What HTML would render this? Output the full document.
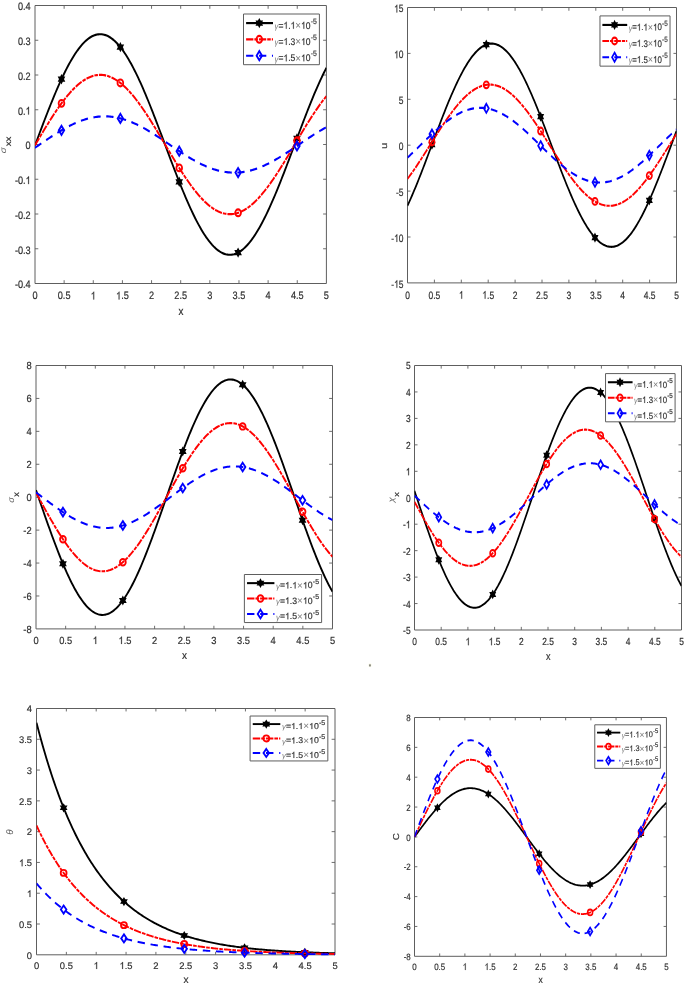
<!DOCTYPE html><html><head><meta charset="utf-8"><title>fig</title>
<style>html,body{margin:0;padding:0;background:#fff}svg{display:block;will-change:transform}text{font-family:"Liberation Sans",sans-serif;stroke:#444;stroke-width:0.22px;paint-order:stroke;text-rendering:geometricPrecision}</style></head><body>
<svg width="685" height="985" viewBox="0 0 685 985">
<rect width="685" height="985" fill="#fff"/>
<g transform="translate(35 5.5) scale(1.00000 1.00000)">
<path d="M29.14 278v-3.3M29.14 0v3.3M58.28 278v-3.3M58.28 0v3.3M87.42 278v-3.3M87.42 0v3.3M116.56 278v-3.3M116.56 0v3.3M145.7 278v-3.3M145.7 0v3.3M174.84 278v-3.3M174.84 0v3.3M203.98 278v-3.3M203.98 0v3.3M233.12 278v-3.3M233.12 0v3.3M262.26 278v-3.3M262.26 0v3.3M0 243.25h3.3M291.4 243.25h-3.3M0 208.5h3.3M291.4 208.5h-3.3M0 173.75h3.3M291.4 173.75h-3.3M0 139h3.3M291.4 139h-3.3M0 104.25h3.3M291.4 104.25h-3.3M0 69.5h3.3M291.4 69.5h-3.3M0 34.75h3.3M291.4 34.75h-3.3" stroke="#5e5e5e" stroke-width="0.9" fill="none" vector-effect="non-scaling-stroke"/>
<rect x="0" y="0" width="291.4" height="278.0" fill="none" stroke="#5e5e5e" stroke-width="1.0" vector-effect="non-scaling-stroke"/>
<clipPath id="c0"><rect x="0" y="-1.6" width="344.85" height="281.2"/></clipPath>
<g transform="scale(0.845 1)">
<path d="M0 139.88 L1.44 136.64 L2.87 133.4 L4.31 130.16 L5.75 126.93 L7.18 123.71 L8.62 120.5 L10.06 117.31 L11.5 114.14 L12.93 110.99 L14.37 107.87 L15.81 104.77 L17.24 101.7 L18.68 98.66 L20.12 95.66 L21.55 92.7 L22.99 89.77 L24.43 86.89 L25.86 84.05 L27.3 81.26 L28.74 78.52 L30.17 75.84 L31.61 73.21 L33.05 70.63 L34.49 68.11 L35.92 65.66 L37.36 63.27 L38.8 60.94 L40.23 58.68 L41.67 56.5 L43.11 54.38 L44.54 52.33 L45.98 50.36 L47.42 48.47 L48.85 46.66 L50.29 44.92 L51.73 43.27 L53.16 41.7 L54.6 40.22 L56.04 38.82 L57.48 37.5 L58.91 36.28 L60.35 35.14 L61.79 34.09 L63.22 33.14 L64.66 32.27 L66.1 31.5 L67.53 30.82 L68.97 30.23 L70.41 29.74 L71.84 29.35 L73.28 29.04 L74.72 28.84 L76.15 28.72 L77.59 28.71 L79.03 28.79 L80.47 28.96 L81.9 29.23 L83.34 29.6 L84.78 30.06 L86.21 30.61 L87.65 31.26 L89.09 32 L90.52 32.83 L91.96 33.76 L93.4 34.77 L94.83 35.88 L96.27 37.07 L97.71 38.36 L99.14 39.73 L100.58 41.19 L102.02 42.73 L103.46 44.35 L104.89 46.06 L106.33 47.85 L107.77 49.71 L109.2 51.66 L110.64 53.67 L112.08 55.77 L113.51 57.93 L114.95 60.17 L116.39 62.47 L117.82 64.84 L119.26 67.27 L120.7 69.77 L122.14 72.32 L123.57 74.94 L125.01 77.6 L126.45 80.33 L127.88 83.1 L129.32 85.92 L130.76 88.79 L132.19 91.7 L133.63 94.65 L135.07 97.64 L136.5 100.66 L137.94 103.72 L139.38 106.81 L140.81 109.93 L142.25 113.07 L143.69 116.23 L145.13 119.42 L146.56 122.62 L148 125.83 L149.44 129.06 L150.87 132.29 L152.31 135.53 L153.75 138.78 L155.18 142.02 L156.62 145.26 L158.06 148.5 L159.49 151.73 L160.93 154.95 L162.37 158.15 L163.8 161.33 L165.24 164.5 L166.68 167.65 L168.12 170.77 L169.55 173.86 L170.99 176.92 L172.43 179.95 L173.86 182.95 L175.3 185.9 L176.74 188.82 L178.17 191.69 L179.61 194.52 L181.05 197.3 L182.48 200.03 L183.92 202.7 L185.36 205.32 L186.79 207.89 L188.23 210.39 L189.67 212.83 L191.11 215.21 L192.54 217.52 L193.98 219.77 L195.42 221.94 L196.85 224.04 L198.29 226.07 L199.73 228.03 L201.16 229.9 L202.6 231.7 L204.04 233.42 L205.47 235.06 L206.91 236.61 L208.35 238.08 L209.79 239.46 L211.22 240.75 L212.66 241.96 L214.1 243.08 L215.53 244.11 L216.97 245.05 L218.41 245.89 L219.84 246.65 L221.28 247.31 L222.72 247.87 L224.15 248.35 L225.59 248.72 L227.03 249.01 L228.46 249.19 L229.9 249.29 L231.34 249.28 L232.78 249.18 L234.21 248.99 L235.65 248.7 L237.09 248.32 L238.52 247.84 L239.96 247.27 L241.4 246.6 L242.83 245.84 L244.27 244.99 L245.71 244.04 L247.14 243.01 L248.58 241.88 L250.02 240.67 L251.45 239.37 L252.89 237.98 L254.33 236.51 L255.77 234.95 L257.2 233.31 L258.64 231.58 L260.08 229.78 L261.51 227.9 L262.95 225.94 L264.39 223.91 L265.82 221.8 L267.26 219.62 L268.7 217.37 L270.13 215.05 L271.57 212.67 L273.01 210.23 L274.44 207.72 L275.88 205.15 L277.32 202.53 L278.76 199.85 L280.19 197.11 L281.63 194.33 L283.07 191.5 L284.5 188.63 L285.94 185.71 L287.38 182.75 L288.81 179.75 L290.25 176.72 L291.69 173.65 L293.12 170.56 L294.56 167.44 L296 164.29 L297.43 161.12 L298.87 157.93 L300.31 154.73 L301.75 151.51 L303.18 148.28 L304.62 145.05 L306.06 141.81 L307.49 138.56 L308.93 135.32 L310.37 132.08 L311.8 128.84 L313.24 125.62 L314.68 122.4 L316.11 119.2 L317.55 116.02 L318.99 112.86 L320.43 109.72 L321.86 106.6 L323.3 103.51 L324.74 100.46 L326.17 97.43 L327.61 94.45 L329.05 91.5 L330.48 88.59 L331.92 85.73 L333.36 82.91 L334.79 80.14 L336.23 77.42 L337.67 74.76 L339.1 72.15 L340.54 69.6 L341.98 67.11 L343.42 64.68 L344.85 62.31" clip-path="url(#c0)" fill="none" stroke-width="2.15" stroke="#000000"/>
<path d="M31.35 69.98 L30.28 71.83 L28.15 71.83 L29.21 73.68 L28.15 75.53 L30.28 75.53 L31.35 77.38 L32.42 75.53 L34.55 75.53 L33.49 73.68 L34.55 71.83 L32.42 71.83Z" fill="#000" stroke="#000" stroke-width="1.5" stroke-linejoin="miter"/>
<path d="M101.02 37.94 L99.95 39.79 L97.81 39.79 L98.88 41.64 L97.81 43.49 L99.95 43.49 L101.02 45.34 L102.09 43.49 L104.22 43.49 L103.15 41.64 L104.22 39.79 L102.09 39.79Z" fill="#000" stroke="#000" stroke-width="1.5" stroke-linejoin="miter"/>
<path d="M170.68 172.58 L169.62 174.43 L167.48 174.43 L168.55 176.28 L167.48 178.13 L169.62 178.13 L170.68 179.98 L171.75 178.13 L173.89 178.13 L172.82 176.28 L173.89 174.43 L171.75 174.43Z" fill="#000" stroke="#000" stroke-width="1.5" stroke-linejoin="miter"/>
<path d="M240.35 243.39 L239.28 245.24 L237.15 245.24 L238.22 247.09 L237.15 248.94 L239.28 248.94 L240.35 250.79 L241.42 248.94 L243.56 248.94 L242.49 247.09 L243.56 245.24 L241.42 245.24Z" fill="#000" stroke="#000" stroke-width="1.5" stroke-linejoin="miter"/>
<path d="M310.02 129.16 L308.95 131.01 L306.81 131.01 L307.88 132.86 L306.81 134.71 L308.95 134.71 L310.02 136.56 L311.09 134.71 L313.22 134.71 L312.15 132.86 L313.22 131.01 L311.09 131.01Z" fill="#000" stroke="#000" stroke-width="1.5" stroke-linejoin="miter"/>
<path d="M0 139.7 L1.44 137.65 L2.87 135.6 L4.31 133.56 L5.75 131.52 L7.18 129.48 L8.62 127.46 L10.06 125.44 L11.5 123.44 L12.93 121.45 L14.37 119.48 L15.81 117.52 L17.24 115.58 L18.68 113.66 L20.12 111.76 L21.55 109.89 L22.99 108.04 L24.43 106.22 L25.86 104.43 L27.3 102.66 L28.74 100.93 L30.17 99.23 L31.61 97.57 L33.05 95.94 L34.49 94.35 L35.92 92.8 L37.36 91.29 L38.8 89.81 L40.23 88.39 L41.67 87 L43.11 85.66 L44.54 84.37 L45.98 83.12 L47.42 81.92 L48.85 80.77 L50.29 79.68 L51.73 78.63 L53.16 77.63 L54.6 76.69 L56.04 75.8 L57.48 74.97 L58.91 74.19 L60.35 73.47 L61.79 72.81 L63.22 72.2 L64.66 71.65 L66.1 71.16 L67.53 70.72 L68.97 70.35 L70.41 70.04 L71.84 69.78 L73.28 69.59 L74.72 69.45 L76.15 69.38 L77.59 69.36 L79.03 69.41 L80.47 69.52 L81.9 69.68 L83.34 69.91 L84.78 70.19 L86.21 70.54 L87.65 70.94 L89.09 71.41 L90.52 71.93 L91.96 72.51 L93.4 73.15 L94.83 73.84 L96.27 74.59 L97.71 75.4 L99.14 76.26 L100.58 77.18 L102.02 78.15 L103.46 79.17 L104.89 80.24 L106.33 81.37 L107.77 82.54 L109.2 83.77 L110.64 85.04 L112.08 86.36 L113.51 87.72 L114.95 89.13 L116.39 90.58 L117.82 92.07 L119.26 93.61 L120.7 95.18 L122.14 96.79 L123.57 98.44 L125.01 100.12 L126.45 101.84 L127.88 103.58 L129.32 105.36 L130.76 107.17 L132.19 109.01 L133.63 110.87 L135.07 112.75 L136.5 114.66 L137.94 116.59 L139.38 118.54 L140.81 120.51 L142.25 122.49 L143.69 124.49 L145.13 126.5 L146.56 128.52 L148 130.55 L149.44 132.58 L150.87 134.63 L152.31 136.67 L153.75 138.72 L155.18 140.77 L156.62 142.82 L158.06 144.86 L159.49 146.9 L160.93 148.93 L162.37 150.95 L163.8 152.97 L165.24 154.97 L166.68 156.95 L168.12 158.92 L169.55 160.88 L170.99 162.81 L172.43 164.73 L173.86 166.62 L175.3 168.49 L176.74 170.33 L178.17 172.15 L179.61 173.93 L181.05 175.69 L182.48 177.42 L183.92 179.11 L185.36 180.76 L186.79 182.39 L188.23 183.97 L189.67 185.51 L191.11 187.02 L192.54 188.48 L193.98 189.9 L195.42 191.28 L196.85 192.61 L198.29 193.89 L199.73 195.13 L201.16 196.32 L202.6 197.45 L204.04 198.54 L205.47 199.58 L206.91 200.56 L208.35 201.49 L209.79 202.37 L211.22 203.19 L212.66 203.96 L214.1 204.67 L215.53 205.32 L216.97 205.92 L218.41 206.46 L219.84 206.94 L221.28 207.36 L222.72 207.72 L224.15 208.02 L225.59 208.26 L227.03 208.45 L228.46 208.57 L229.9 208.63 L231.34 208.63 L232.78 208.57 L234.21 208.46 L235.65 208.28 L237.09 208.04 L238.52 207.74 L239.96 207.38 L241.4 206.97 L242.83 206.49 L244.27 205.96 L245.71 205.36 L247.14 204.72 L248.58 204.01 L250.02 203.25 L251.45 202.43 L252.89 201.56 L254.33 200.63 L255.77 199.65 L257.2 198.62 L258.64 197.53 L260.08 196.4 L261.51 195.21 L262.95 193.98 L264.39 192.7 L265.82 191.37 L267.26 190 L268.7 188.58 L270.13 187.12 L271.57 185.62 L273.01 184.08 L274.44 182.5 L275.88 180.88 L277.32 179.22 L278.76 177.53 L280.19 175.81 L281.63 174.06 L283.07 172.27 L284.5 170.46 L285.94 168.62 L287.38 166.75 L288.81 164.86 L290.25 162.95 L291.69 161.01 L293.12 159.06 L294.56 157.09 L296 155.1 L297.43 153.1 L298.87 151.09 L300.31 149.07 L301.75 147.04 L303.18 145 L304.62 142.96 L306.06 140.91 L307.49 138.86 L308.93 136.81 L310.37 134.77 L311.8 132.72 L313.24 130.69 L314.68 128.66 L316.11 126.64 L317.55 124.63 L318.99 122.63 L320.43 120.64 L321.86 118.68 L323.3 116.73 L324.74 114.8 L326.17 112.89 L327.61 111 L329.05 109.13 L330.48 107.3 L331.92 105.49 L333.36 103.71 L334.79 101.96 L336.23 100.24 L337.67 98.55 L339.1 96.9 L340.54 95.29 L341.98 93.71 L343.42 92.18 L344.85 90.68" clip-path="url(#c0)" fill="none" stroke-width="2.15" stroke="#ff0000" stroke-dasharray="8.6 1.2 4.2 1.2"/>
<circle cx="31.35" cy="97.87" r="3.4" fill="none" stroke="#f00" stroke-width="2.1"/>
<circle cx="101.02" cy="77.47" r="3.4" fill="none" stroke="#f00" stroke-width="2.1"/>
<circle cx="170.68" cy="162.4" r="3.4" fill="none" stroke="#f00" stroke-width="2.1"/>
<circle cx="240.35" cy="207.28" r="3.4" fill="none" stroke="#f00" stroke-width="2.1"/>
<circle cx="310.02" cy="135.26" r="3.4" fill="none" stroke="#f00" stroke-width="2.1"/>
<path d="M0 142.23 L1.44 141.41 L2.87 140.58 L4.31 139.75 L5.75 138.92 L7.18 138.1 L8.62 137.27 L10.06 136.44 L11.5 135.62 L12.93 134.8 L14.37 133.98 L15.81 133.17 L17.24 132.36 L18.68 131.56 L20.12 130.77 L21.55 129.98 L22.99 129.2 L24.43 128.43 L25.86 127.66 L27.3 126.91 L28.74 126.17 L30.17 125.44 L31.61 124.72 L33.05 124.01 L34.49 123.32 L35.92 122.64 L37.36 121.97 L38.8 121.32 L40.23 120.68 L41.67 120.06 L43.11 119.46 L44.54 118.87 L45.98 118.3 L47.42 117.75 L48.85 117.21 L50.29 116.7 L51.73 116.2 L53.16 115.73 L54.6 115.27 L56.04 114.84 L57.48 114.42 L58.91 114.03 L60.35 113.66 L61.79 113.31 L63.22 112.98 L64.66 112.68 L66.1 112.4 L67.53 112.14 L68.97 111.9 L70.41 111.69 L71.84 111.5 L73.28 111.34 L74.72 111.19 L76.15 111.08 L77.59 110.99 L79.03 110.92 L80.47 110.87 L81.9 110.85 L83.34 110.86 L84.78 110.89 L86.21 110.94 L87.65 111.02 L89.09 111.12 L90.52 111.25 L91.96 111.4 L93.4 111.57 L94.83 111.77 L96.27 111.99 L97.71 112.23 L99.14 112.5 L100.58 112.79 L102.02 113.11 L103.46 113.44 L104.89 113.8 L106.33 114.18 L107.77 114.58 L109.2 115 L110.64 115.44 L112.08 115.91 L113.51 116.39 L114.95 116.89 L116.39 117.42 L117.82 117.96 L119.26 118.52 L120.7 119.09 L122.14 119.69 L123.57 120.3 L125.01 120.92 L126.45 121.57 L127.88 122.22 L129.32 122.9 L130.76 123.58 L132.19 124.28 L133.63 124.99 L135.07 125.72 L136.5 126.45 L137.94 127.2 L139.38 127.96 L140.81 128.72 L142.25 129.5 L143.69 130.28 L145.13 131.07 L146.56 131.87 L148 132.67 L149.44 133.48 L150.87 134.3 L152.31 135.12 L153.75 135.94 L155.18 136.76 L156.62 137.59 L158.06 138.42 L159.49 139.24 L160.93 140.07 L162.37 140.9 L163.8 141.72 L165.24 142.55 L166.68 143.37 L168.12 144.18 L169.55 144.99 L170.99 145.8 L172.43 146.6 L173.86 147.39 L175.3 148.18 L176.74 148.96 L178.17 149.73 L179.61 150.49 L181.05 151.24 L182.48 151.98 L183.92 152.71 L185.36 153.43 L186.79 154.13 L188.23 154.82 L189.67 155.5 L191.11 156.16 L192.54 156.81 L193.98 157.45 L195.42 158.06 L196.85 158.66 L198.29 159.25 L199.73 159.82 L201.16 160.36 L202.6 160.89 L204.04 161.4 L205.47 161.9 L206.91 162.37 L208.35 162.82 L209.79 163.25 L211.22 163.66 L212.66 164.05 L214.1 164.41 L215.53 164.76 L216.97 165.08 L218.41 165.38 L219.84 165.66 L221.28 165.91 L222.72 166.14 L224.15 166.35 L225.59 166.54 L227.03 166.69 L228.46 166.83 L229.9 166.94 L231.34 167.03 L232.78 167.09 L234.21 167.13 L235.65 167.15 L237.09 167.14 L238.52 167.1 L239.96 167.05 L241.4 166.96 L242.83 166.86 L244.27 166.73 L245.71 166.57 L247.14 166.39 L248.58 166.19 L250.02 165.96 L251.45 165.71 L252.89 165.44 L254.33 165.15 L255.77 164.83 L257.2 164.49 L258.64 164.13 L260.08 163.74 L261.51 163.34 L262.95 162.91 L264.39 162.46 L265.82 162 L267.26 161.51 L268.7 161 L270.13 160.47 L271.57 159.93 L273.01 159.37 L274.44 158.79 L275.88 158.19 L277.32 157.58 L278.76 156.95 L280.19 156.3 L281.63 155.64 L283.07 154.97 L284.5 154.28 L285.94 153.57 L287.38 152.86 L288.81 152.13 L290.25 151.4 L291.69 150.65 L293.12 149.89 L294.56 149.12 L296 148.34 L297.43 147.56 L298.87 146.77 L300.31 145.97 L301.75 145.16 L303.18 144.35 L304.62 143.54 L306.06 142.72 L307.49 141.89 L308.93 141.07 L310.37 140.24 L311.8 139.42 L313.24 138.59 L314.68 137.76 L316.11 136.93 L317.55 136.11 L318.99 135.29 L320.43 134.47 L321.86 133.65 L323.3 132.84 L324.74 132.04 L326.17 131.24 L327.61 130.45 L329.05 129.66 L330.48 128.88 L331.92 128.11 L333.36 127.36 L334.79 126.61 L336.23 125.87 L337.67 125.14 L339.1 124.43 L340.54 123.73 L341.98 123.04 L343.42 122.36 L344.85 121.7" clip-path="url(#c0)" fill="none" stroke-width="2.15" stroke="#0000ff" stroke-dasharray="8.6 6.6"/>
<path d="M31.35 120.3 L34.55 124.85 L31.35 129.4 L28.15 124.85Z" fill="none" stroke="#00f" stroke-width="2.1" stroke-linejoin="miter"/>
<path d="M101.02 108.33 L104.22 112.88 L101.02 117.43 L97.82 112.88Z" fill="none" stroke="#00f" stroke-width="2.1" stroke-linejoin="miter"/>
<path d="M170.68 141.08 L173.88 145.63 L170.68 150.18 L167.48 145.63Z" fill="none" stroke="#00f" stroke-width="2.1" stroke-linejoin="miter"/>
<path d="M240.35 162.48 L243.55 167.03 L240.35 171.58 L237.15 167.03Z" fill="none" stroke="#00f" stroke-width="2.1" stroke-linejoin="miter"/>
<path d="M310.02 135.89 L313.22 140.44 L310.02 144.99 L306.82 140.44Z" fill="none" stroke="#00f" stroke-width="2.1" stroke-linejoin="miter"/>
</g>
<text transform="translate(-2.553 293.9) scale(0.85 1)" font-size="10.8" fill="#2f2f2f">0</text>
<text transform="translate(22.758 293.9) scale(0.85 1)" font-size="10.8" fill="#2f2f2f">0.5</text>
<path transform="translate(55.727 293.9) scale(0.004482 -0.005273)" d="M763 0L583 0L583 1147Q518 1085 412.5 1023Q307 961 223 930L223 1104Q374 1175 487 1276Q600 1377 647 1472L763 1472Z" fill="#2f2f2f" stroke="#444" stroke-width="0.22" vector-effect="non-scaling-stroke"/>
<path transform="translate(81.038 293.9) scale(0.004482 -0.005273)" d="M763 0L583 0L583 1147Q518 1085 412.5 1023Q307 961 223 930L223 1104Q374 1175 487 1276Q600 1377 647 1472L763 1472Z" fill="#2f2f2f" stroke="#444" stroke-width="0.22" vector-effect="non-scaling-stroke"/><text transform="translate(86.144 293.9) scale(0.85 1)" font-size="10.8" fill="#2f2f2f">.5</text>
<text transform="translate(114.007 293.9) scale(0.85 1)" font-size="10.8" fill="#2f2f2f">2</text>
<text transform="translate(139.318 293.9) scale(0.85 1)" font-size="10.8" fill="#2f2f2f">2.5</text>
<text transform="translate(172.287 293.9) scale(0.85 1)" font-size="10.8" fill="#2f2f2f">3</text>
<text transform="translate(197.598 293.9) scale(0.85 1)" font-size="10.8" fill="#2f2f2f">3.5</text>
<text transform="translate(230.567 293.9) scale(0.85 1)" font-size="10.8" fill="#2f2f2f">4</text>
<text transform="translate(255.878 293.9) scale(0.85 1)" font-size="10.8" fill="#2f2f2f">4.5</text>
<text transform="translate(288.847 293.9) scale(0.85 1)" font-size="10.8" fill="#2f2f2f">5</text>
<text transform="translate(-20.123 282.85) scale(0.85 1)" font-size="10.8" fill="#2f2f2f">-0.4</text>
<text transform="translate(-20.123 248.1) scale(0.85 1)" font-size="10.8" fill="#2f2f2f">-0.3</text>
<text transform="translate(-20.123 213.35) scale(0.85 1)" font-size="10.8" fill="#2f2f2f">-0.2</text>
<text transform="translate(-20.123 178.6) scale(0.85 1)" font-size="10.8" fill="#2f2f2f">-0.</text><path transform="translate(-9.406 178.6) scale(0.004482 -0.005273)" d="M763 0L583 0L583 1147Q518 1085 412.5 1023Q307 961 223 930L223 1104Q374 1175 487 1276Q600 1377 647 1472L763 1472Z" fill="#2f2f2f" stroke="#444" stroke-width="0.22" vector-effect="non-scaling-stroke"/>
<text transform="translate(-9.406 143.85) scale(0.85 1)" font-size="10.8" fill="#2f2f2f">0</text>
<text transform="translate(-17.065 109.1) scale(0.85 1)" font-size="10.8" fill="#2f2f2f">0.</text><path transform="translate(-9.406 109.1) scale(0.004482 -0.005273)" d="M763 0L583 0L583 1147Q518 1085 412.5 1023Q307 961 223 930L223 1104Q374 1175 487 1276Q600 1377 647 1472L763 1472Z" fill="#2f2f2f" stroke="#444" stroke-width="0.22" vector-effect="non-scaling-stroke"/>
<text transform="translate(-17.065 74.35) scale(0.85 1)" font-size="10.8" fill="#2f2f2f">0.2</text>
<text transform="translate(-17.065 39.6) scale(0.85 1)" font-size="10.8" fill="#2f2f2f">0.3</text>
<text transform="translate(-17.065 4.85) scale(0.85 1)" font-size="10.8" fill="#2f2f2f">0.4</text>
<text transform="translate(143.535 309.6) scale(0.85 1)" font-size="11.6" fill="#2f2f2f">x</text>
<text transform="translate(-28.9 144.7) rotate(-90) scale(1 0.85)" font-size="9.86" text-anchor="middle" fill="#626262" font-style="italic" style="stroke:none">σ</text><text transform="translate(-24 135.9) rotate(-90) scale(1 0.85)" font-size="9.74" text-anchor="middle" fill="#2f2f2f">xx</text>
<g transform="translate(208.5 8.5)">
<rect x="0" y="0" width="75.9" height="50.7" fill="#fff" stroke="#5e5e5e" stroke-width="1.0" vector-effect="non-scaling-stroke"/>
<g transform="scale(0.845 1)"><path d="M3.08 9.1H34.91" stroke="#000000" stroke-width="2.15" fill="none"/><path d="M18.7 5.4 L17.63 7.25 L15.49 7.25 L16.56 9.1 L15.49 10.95 L17.63 10.95 L18.7 12.8 L19.77 10.95 L21.9 10.95 L20.83 9.1 L21.9 7.25 L19.77 7.25Z" fill="#000" stroke="#000" stroke-width="1.5" stroke-linejoin="miter"/></g>
<text transform="translate(31.1 15.2) scale(0.89 1)" font-size="8.64" font-style="italic" fill="#7c7c7c" style="stroke:none">γ</text>
<text transform="translate(34.945 14.7) scale(0.89 1)" font-size="9.6" fill="#2f2f2f" style="stroke-width:0.2px">=</text><path transform="translate(39.935 14.7) scale(0.004172 -0.004687)" d="M763 0L583 0L583 1147Q518 1085 412.5 1023Q307 961 223 930L223 1104Q374 1175 487 1276Q600 1377 647 1472L763 1472Z" fill="#2f2f2f" stroke="#444" stroke-width="0.2" vector-effect="non-scaling-stroke"/><text transform="translate(44.688 14.7) scale(0.89 1)" font-size="9.6" fill="#2f2f2f" style="stroke-width:0.2px">.</text><path transform="translate(47.063 14.7) scale(0.004172 -0.004687)" d="M763 0L583 0L583 1147Q518 1085 412.5 1023Q307 961 223 930L223 1104Q374 1175 487 1276Q600 1377 647 1472L763 1472Z" fill="#2f2f2f" stroke="#444" stroke-width="0.2" vector-effect="non-scaling-stroke"/>
<text transform="translate(51.815 15.1) scale(0.89 1)" font-size="11.04" fill="#7c7c7c" style="stroke:none">×</text>
<path transform="translate(57.554 14.7) scale(0.004172 -0.004687)" d="M763 0L583 0L583 1147Q518 1085 412.5 1023Q307 961 223 930L223 1104Q374 1175 487 1276Q600 1377 647 1472L763 1472Z" fill="#2f2f2f" stroke="#444" stroke-width="0.2" vector-effect="non-scaling-stroke"/><text transform="translate(62.307 14.7) scale(0.89 1)" font-size="9.6" fill="#2f2f2f" style="stroke-width:0.2px">0</text>
<text transform="translate(67.259 9.7) scale(0.89 1)" font-size="7.68" fill="#2f2f2f" style="stroke-width:0.2px">-5</text>
<g transform="scale(0.845 1)"><path d="M3.08 25.3H34.91" stroke="#ff0000" stroke-width="2.15" fill="none" stroke-dasharray="8.6 1.2 4.2 1.2"/><circle cx="18.7" cy="25.3" r="3.4" fill="none" stroke="#f00" stroke-width="2.1"/></g>
<text transform="translate(31.1 31.4) scale(0.89 1)" font-size="8.64" font-style="italic" fill="#7c7c7c" style="stroke:none">γ</text>
<text transform="translate(34.945 30.9) scale(0.89 1)" font-size="9.6" fill="#2f2f2f" style="stroke-width:0.2px">=</text><path transform="translate(39.935 30.9) scale(0.004172 -0.004687)" d="M763 0L583 0L583 1147Q518 1085 412.5 1023Q307 961 223 930L223 1104Q374 1175 487 1276Q600 1377 647 1472L763 1472Z" fill="#2f2f2f" stroke="#444" stroke-width="0.2" vector-effect="non-scaling-stroke"/><text transform="translate(44.688 30.9) scale(0.89 1)" font-size="9.6" fill="#2f2f2f" style="stroke-width:0.2px">.3</text>
<text transform="translate(51.815 31.3) scale(0.89 1)" font-size="11.04" fill="#7c7c7c" style="stroke:none">×</text>
<path transform="translate(57.554 30.9) scale(0.004172 -0.004687)" d="M763 0L583 0L583 1147Q518 1085 412.5 1023Q307 961 223 930L223 1104Q374 1175 487 1276Q600 1377 647 1472L763 1472Z" fill="#2f2f2f" stroke="#444" stroke-width="0.2" vector-effect="non-scaling-stroke"/><text transform="translate(62.307 30.9) scale(0.89 1)" font-size="9.6" fill="#2f2f2f" style="stroke-width:0.2px">0</text>
<text transform="translate(67.259 25.9) scale(0.89 1)" font-size="7.68" fill="#2f2f2f" style="stroke-width:0.2px">-5</text>
<g transform="scale(0.845 1)"><path d="M3.08 41.7H34.91" stroke="#0000ff" stroke-width="2.15" fill="none" stroke-dasharray="8.6 6.7"/><path d="M18.7 37.15 L21.9 41.7 L18.7 46.25 L15.5 41.7Z" fill="none" stroke="#00f" stroke-width="2.1" stroke-linejoin="miter"/></g>
<text transform="translate(31.1 47.8) scale(0.89 1)" font-size="8.64" font-style="italic" fill="#7c7c7c" style="stroke:none">γ</text>
<text transform="translate(34.945 47.3) scale(0.89 1)" font-size="9.6" fill="#2f2f2f" style="stroke-width:0.2px">=</text><path transform="translate(39.935 47.3) scale(0.004172 -0.004687)" d="M763 0L583 0L583 1147Q518 1085 412.5 1023Q307 961 223 930L223 1104Q374 1175 487 1276Q600 1377 647 1472L763 1472Z" fill="#2f2f2f" stroke="#444" stroke-width="0.2" vector-effect="non-scaling-stroke"/><text transform="translate(44.688 47.3) scale(0.89 1)" font-size="9.6" fill="#2f2f2f" style="stroke-width:0.2px">.5</text>
<text transform="translate(51.815 47.7) scale(0.89 1)" font-size="11.04" fill="#7c7c7c" style="stroke:none">×</text>
<path transform="translate(57.554 47.3) scale(0.004172 -0.004687)" d="M763 0L583 0L583 1147Q518 1085 412.5 1023Q307 961 223 930L223 1104Q374 1175 487 1276Q600 1377 647 1472L763 1472Z" fill="#2f2f2f" stroke="#444" stroke-width="0.2" vector-effect="non-scaling-stroke"/><text transform="translate(62.307 47.3) scale(0.89 1)" font-size="9.6" fill="#2f2f2f" style="stroke-width:0.2px">0</text>
<text transform="translate(67.259 42.3) scale(0.89 1)" font-size="7.68" fill="#2f2f2f" style="stroke-width:0.2px">-5</text>
</g>
</g>
<g transform="translate(407.5 7.5) scale(0.92313 0.99065)">
<path d="M29.14 278v-3.3M29.14 0v3.3M58.28 278v-3.3M58.28 0v3.3M87.42 278v-3.3M87.42 0v3.3M116.56 278v-3.3M116.56 0v3.3M145.7 278v-3.3M145.7 0v3.3M174.84 278v-3.3M174.84 0v3.3M203.98 278v-3.3M203.98 0v3.3M233.12 278v-3.3M233.12 0v3.3M262.26 278v-3.3M262.26 0v3.3M0 231.67h3.3M291.4 231.67h-3.3M0 185.33h3.3M291.4 185.33h-3.3M0 139h3.3M291.4 139h-3.3M0 92.67h3.3M291.4 92.67h-3.3M0 46.33h3.3M291.4 46.33h-3.3" stroke="#5e5e5e" stroke-width="0.9" fill="none" vector-effect="non-scaling-stroke"/>
<rect x="0" y="0" width="291.4" height="278.0" fill="none" stroke="#5e5e5e" stroke-width="1.0" vector-effect="non-scaling-stroke"/>
<clipPath id="c1"><rect x="0" y="-1.6" width="344.85" height="281.2"/></clipPath>
<g transform="scale(0.845 1)">
<path d="M0 200.01 L1.44 197.56 L2.87 195.06 L4.31 192.51 L5.75 189.91 L7.18 187.27 L8.62 184.59 L10.06 181.86 L11.5 179.1 L12.93 176.31 L14.37 173.48 L15.81 170.63 L17.24 167.74 L18.68 164.83 L20.12 161.9 L21.55 158.95 L22.99 155.98 L24.43 153 L25.86 150.01 L27.3 147 L28.74 143.99 L30.17 140.97 L31.61 137.96 L33.05 134.94 L34.49 131.93 L35.92 128.92 L37.36 125.92 L38.8 122.94 L40.23 119.96 L41.67 117.01 L43.11 114.07 L44.54 111.15 L45.98 108.26 L47.42 105.4 L48.85 102.56 L50.29 99.75 L51.73 96.98 L53.16 94.25 L54.6 91.55 L56.04 88.9 L57.48 86.29 L58.91 83.72 L60.35 81.2 L61.79 78.74 L63.22 76.32 L64.66 73.96 L66.1 71.66 L67.53 69.41 L68.97 67.22 L70.41 65.1 L71.84 63.04 L73.28 61.04 L74.72 59.11 L76.15 57.26 L77.59 55.47 L79.03 53.75 L80.47 52.11 L81.9 50.55 L83.34 49.06 L84.78 47.64 L86.21 46.31 L87.65 45.06 L89.09 43.89 L90.52 42.8 L91.96 41.79 L93.4 40.87 L94.83 40.03 L96.27 39.28 L97.71 38.62 L99.14 38.04 L100.58 37.55 L102.02 37.15 L103.46 36.83 L104.89 36.6 L106.33 36.47 L107.77 36.42 L109.2 36.46 L110.64 36.59 L112.08 36.8 L113.51 37.11 L114.95 37.5 L116.39 37.98 L117.82 38.55 L119.26 39.21 L120.7 39.95 L122.14 40.78 L123.57 41.69 L125.01 42.69 L126.45 43.77 L127.88 44.93 L129.32 46.18 L130.76 47.5 L132.19 48.9 L133.63 50.39 L135.07 51.94 L136.5 53.58 L137.94 55.29 L139.38 57.07 L140.81 58.92 L142.25 60.84 L143.69 62.82 L145.13 64.88 L146.56 67 L148 69.18 L149.44 71.42 L150.87 73.72 L152.31 76.07 L153.75 78.48 L155.18 80.94 L156.62 83.46 L158.06 86.02 L159.49 88.62 L160.93 91.27 L162.37 93.96 L163.8 96.69 L165.24 99.46 L166.68 102.26 L168.12 105.1 L169.55 107.96 L170.99 110.85 L172.43 113.76 L173.86 116.7 L175.3 119.65 L176.74 122.62 L178.17 125.61 L179.61 128.6 L181.05 131.61 L182.48 134.62 L183.92 137.64 L185.36 140.66 L186.79 143.67 L188.23 146.69 L189.67 149.69 L191.11 152.69 L192.54 155.67 L193.98 158.64 L195.42 161.59 L196.85 164.53 L198.29 167.44 L199.73 170.33 L201.16 173.18 L202.6 176.01 L204.04 178.81 L205.47 181.58 L206.91 184.3 L208.35 186.99 L209.79 189.64 L211.22 192.24 L212.66 194.79 L214.1 197.3 L215.53 199.76 L216.97 202.16 L218.41 204.51 L219.84 206.81 L221.28 209.04 L222.72 211.22 L224.15 213.33 L225.59 215.37 L227.03 217.36 L228.46 219.27 L229.9 221.11 L231.34 222.89 L232.78 224.59 L234.21 226.21 L235.65 227.76 L237.09 229.24 L238.52 230.63 L239.96 231.95 L241.4 233.19 L242.83 234.34 L244.27 235.41 L245.71 236.4 L247.14 237.31 L248.58 238.13 L250.02 238.86 L251.45 239.51 L252.89 240.07 L254.33 240.54 L255.77 240.93 L257.2 241.22 L258.64 241.43 L260.08 241.55 L261.51 241.58 L262.95 241.52 L264.39 241.38 L265.82 241.14 L267.26 240.82 L268.7 240.41 L270.13 239.91 L271.57 239.32 L273.01 238.65 L274.44 237.89 L275.88 237.04 L277.32 236.11 L278.76 235.1 L280.19 234 L281.63 232.82 L283.07 231.56 L284.5 230.22 L285.94 228.8 L287.38 227.3 L288.81 225.73 L290.25 224.08 L291.69 222.36 L293.12 220.56 L294.56 218.7 L296 216.76 L297.43 214.76 L298.87 212.7 L300.31 210.57 L301.75 208.37 L303.18 206.12 L304.62 203.81 L306.06 201.44 L307.49 199.02 L308.93 196.55 L310.37 194.03 L311.8 191.46 L313.24 188.84 L314.68 186.18 L316.11 183.48 L317.55 180.74 L318.99 177.97 L320.43 175.16 L321.86 172.32 L323.3 169.46 L324.74 166.56 L326.17 163.64 L327.61 160.7 L329.05 157.75 L330.48 154.77 L331.92 151.78 L333.36 148.78 L334.79 145.78 L336.23 142.76 L337.67 139.75 L339.1 136.73 L340.54 133.71 L341.98 130.7 L343.42 127.7 L344.85 124.7" clip-path="url(#c1)" fill="none" stroke-width="2.15" stroke="#000000"/>
<path d="M31.35 134.81 L30.28 136.66 L28.15 136.66 L29.21 138.51 L28.15 140.36 L30.28 140.36 L31.35 142.21 L32.42 140.36 L34.55 140.36 L33.49 138.51 L34.55 136.66 L32.42 136.66Z" fill="#000" stroke="#000" stroke-width="1.5" stroke-linejoin="miter"/>
<path d="M101.02 33.72 L99.95 35.57 L97.81 35.57 L98.88 37.42 L97.81 39.27 L99.95 39.27 L101.02 41.12 L102.09 39.27 L104.22 39.27 L103.15 37.42 L104.22 35.57 L102.09 35.57Z" fill="#000" stroke="#000" stroke-width="1.5" stroke-linejoin="miter"/>
<path d="M170.68 106.53 L169.62 108.38 L167.48 108.38 L168.55 110.23 L167.48 112.08 L169.62 112.08 L170.68 113.93 L171.75 112.08 L173.89 112.08 L172.82 110.23 L173.89 108.38 L171.75 108.38Z" fill="#000" stroke="#000" stroke-width="1.5" stroke-linejoin="miter"/>
<path d="M240.35 228.6 L239.28 230.45 L237.15 230.45 L238.22 232.3 L237.15 234.15 L239.28 234.15 L240.35 236 L241.42 234.15 L243.56 234.15 L242.49 232.3 L243.56 230.45 L241.42 230.45Z" fill="#000" stroke="#000" stroke-width="1.5" stroke-linejoin="miter"/>
<path d="M310.02 190.94 L308.95 192.79 L306.81 192.79 L307.88 194.64 L306.81 196.49 L308.95 196.49 L310.02 198.34 L311.09 196.49 L313.22 196.49 L312.15 194.64 L313.22 192.79 L311.09 192.79Z" fill="#000" stroke="#000" stroke-width="1.5" stroke-linejoin="miter"/>
<path d="M0 172.98 L1.44 171.47 L2.87 169.93 L4.31 168.36 L5.75 166.77 L7.18 165.16 L8.62 163.52 L10.06 161.86 L11.5 160.18 L12.93 158.49 L14.37 156.77 L15.81 155.04 L17.24 153.3 L18.68 151.54 L20.12 149.78 L21.55 148 L22.99 146.22 L24.43 144.43 L25.86 142.64 L27.3 140.84 L28.74 139.04 L30.17 137.24 L31.61 135.44 L33.05 133.65 L34.49 131.86 L35.92 130.08 L37.36 128.3 L38.8 126.53 L40.23 124.78 L41.67 123.04 L43.11 121.31 L44.54 119.59 L45.98 117.89 L47.42 116.22 L48.85 114.56 L50.29 112.92 L51.73 111.3 L53.16 109.71 L54.6 108.14 L56.04 106.6 L57.48 105.09 L58.91 103.61 L60.35 102.16 L61.79 100.74 L63.22 99.35 L64.66 98 L66.1 96.68 L67.53 95.4 L68.97 94.16 L70.41 92.95 L71.84 91.79 L73.28 90.67 L74.72 89.59 L76.15 88.55 L77.59 87.55 L79.03 86.6 L80.47 85.7 L81.9 84.84 L83.34 84.03 L84.78 83.26 L86.21 82.54 L87.65 81.88 L89.09 81.26 L90.52 80.69 L91.96 80.17 L93.4 79.71 L94.83 79.29 L96.27 78.93 L97.71 78.62 L99.14 78.36 L100.58 78.15 L102.02 78 L103.46 77.89 L104.89 77.84 L106.33 77.85 L107.77 77.91 L109.2 78.02 L110.64 78.18 L112.08 78.39 L113.51 78.66 L114.95 78.98 L116.39 79.35 L117.82 79.78 L119.26 80.25 L120.7 80.78 L122.14 81.35 L123.57 81.98 L125.01 82.65 L126.45 83.38 L127.88 84.15 L129.32 84.97 L130.76 85.84 L132.19 86.75 L133.63 87.71 L135.07 88.71 L136.5 89.75 L137.94 90.84 L139.38 91.97 L140.81 93.14 L142.25 94.35 L143.69 95.6 L145.13 96.89 L146.56 98.21 L148 99.57 L149.44 100.96 L150.87 102.39 L152.31 103.84 L153.75 105.33 L155.18 106.85 L156.62 108.39 L158.06 109.96 L159.49 111.56 L160.93 113.18 L162.37 114.82 L163.8 116.48 L165.24 118.16 L166.68 119.86 L168.12 121.58 L169.55 123.31 L170.99 125.06 L172.43 126.81 L173.86 128.58 L175.3 130.36 L176.74 132.14 L178.17 133.93 L179.61 135.73 L181.05 137.53 L182.48 139.33 L183.92 141.12 L185.36 142.92 L186.79 144.71 L188.23 146.5 L189.67 148.29 L191.11 150.06 L192.54 151.82 L193.98 153.58 L195.42 155.32 L196.85 157.04 L198.29 158.76 L199.73 160.45 L201.16 162.12 L202.6 163.78 L204.04 165.41 L205.47 167.02 L206.91 168.61 L208.35 170.17 L209.79 171.71 L211.22 173.21 L212.66 174.69 L214.1 176.13 L215.53 177.55 L216.97 178.93 L218.41 180.27 L219.84 181.58 L221.28 182.86 L222.72 184.09 L224.15 185.29 L225.59 186.44 L227.03 187.56 L228.46 188.63 L229.9 189.66 L231.34 190.65 L232.78 191.59 L234.21 192.48 L235.65 193.33 L237.09 194.13 L238.52 194.89 L239.96 195.6 L241.4 196.25 L242.83 196.86 L244.27 197.42 L245.71 197.93 L247.14 198.38 L248.58 198.79 L250.02 199.14 L251.45 199.44 L252.89 199.69 L254.33 199.89 L255.77 200.03 L257.2 200.12 L258.64 200.16 L260.08 200.14 L261.51 200.08 L262.95 199.96 L264.39 199.78 L265.82 199.56 L267.26 199.28 L268.7 198.95 L270.13 198.56 L271.57 198.13 L273.01 197.64 L274.44 197.11 L275.88 196.52 L277.32 195.89 L278.76 195.2 L280.19 194.47 L281.63 193.69 L283.07 192.86 L284.5 191.98 L285.94 191.06 L287.38 190.09 L288.81 189.08 L290.25 188.03 L291.69 186.93 L293.12 185.79 L294.56 184.61 L296 183.4 L297.43 182.14 L298.87 180.85 L300.31 179.52 L301.75 178.15 L303.18 176.75 L304.62 175.32 L306.06 173.86 L307.49 172.36 L308.93 170.84 L310.37 169.29 L311.8 167.72 L313.24 166.12 L314.68 164.49 L316.11 162.85 L317.55 161.18 L318.99 159.49 L320.43 157.79 L321.86 156.07 L323.3 154.33 L324.74 152.59 L326.17 150.83 L327.61 149.06 L329.05 147.28 L330.48 145.49 L331.92 143.7 L333.36 141.91 L334.79 140.11 L336.23 138.31 L337.67 136.51 L339.1 134.71 L340.54 132.92 L341.98 131.13 L343.42 129.35 L344.85 127.58" clip-path="url(#c1)" fill="none" stroke-width="2.15" stroke="#ff0000" stroke-dasharray="8.6 1.2 4.2 1.2"/>
<circle cx="31.35" cy="135.77" r="3.4" fill="none" stroke="#f00" stroke-width="2.1"/>
<circle cx="101.02" cy="78.1" r="3.4" fill="none" stroke="#f00" stroke-width="2.1"/>
<circle cx="170.68" cy="124.69" r="3.4" fill="none" stroke="#f00" stroke-width="2.1"/>
<circle cx="240.35" cy="195.78" r="3.4" fill="none" stroke="#f00" stroke-width="2.1"/>
<circle cx="310.02" cy="169.67" r="3.4" fill="none" stroke="#f00" stroke-width="2.1"/>
<path d="M0 151.54 L1.44 150.49 L2.87 149.43 L4.31 148.36 L5.75 147.28 L7.18 146.19 L8.62 145.1 L10.06 144 L11.5 142.9 L12.93 141.8 L14.37 140.69 L15.81 139.58 L17.24 138.47 L18.68 137.36 L20.12 136.26 L21.55 135.15 L22.99 134.05 L24.43 132.95 L25.86 131.86 L27.3 130.77 L28.74 129.69 L30.17 128.62 L31.61 127.56 L33.05 126.51 L34.49 125.47 L35.92 124.44 L37.36 123.42 L38.8 122.42 L40.23 121.43 L41.67 120.45 L43.11 119.5 L44.54 118.56 L45.98 117.63 L47.42 116.73 L48.85 115.84 L50.29 114.98 L51.73 114.13 L53.16 113.31 L54.6 112.51 L56.04 111.73 L57.48 110.97 L58.91 110.24 L60.35 109.54 L61.79 108.86 L63.22 108.21 L64.66 107.58 L66.1 106.98 L67.53 106.41 L68.97 105.86 L70.41 105.35 L71.84 104.86 L73.28 104.4 L74.72 103.98 L76.15 103.58 L77.59 103.21 L79.03 102.88 L80.47 102.58 L81.9 102.3 L83.34 102.06 L84.78 101.86 L86.21 101.68 L87.65 101.54 L89.09 101.42 L90.52 101.34 L91.96 101.3 L93.4 101.28 L94.83 101.3 L96.27 101.36 L97.71 101.44 L99.14 101.56 L100.58 101.7 L102.02 101.89 L103.46 102.1 L104.89 102.34 L106.33 102.62 L107.77 102.93 L109.2 103.27 L110.64 103.64 L112.08 104.04 L113.51 104.47 L114.95 104.93 L116.39 105.42 L117.82 105.94 L119.26 106.49 L120.7 107.07 L122.14 107.67 L123.57 108.31 L125.01 108.96 L126.45 109.65 L127.88 110.36 L129.32 111.09 L130.76 111.85 L132.19 112.63 L133.63 113.43 L135.07 114.26 L136.5 115.11 L137.94 115.98 L139.38 116.87 L140.81 117.77 L142.25 118.7 L143.69 119.64 L145.13 120.6 L146.56 121.58 L148 122.57 L149.44 123.58 L150.87 124.6 L152.31 125.63 L153.75 126.67 L155.18 127.72 L156.62 128.79 L158.06 129.86 L159.49 130.94 L160.93 132.03 L162.37 133.12 L163.8 134.22 L165.24 135.32 L166.68 136.43 L168.12 137.54 L169.55 138.64 L170.99 139.75 L172.43 140.86 L173.86 141.97 L175.3 143.07 L176.74 144.18 L178.17 145.27 L179.61 146.36 L181.05 147.45 L182.48 148.53 L183.92 149.59 L185.36 150.65 L186.79 151.7 L188.23 152.74 L189.67 153.77 L191.11 154.78 L192.54 155.79 L193.98 156.77 L195.42 157.74 L196.85 158.7 L198.29 159.63 L199.73 160.55 L201.16 161.46 L202.6 162.34 L204.04 163.2 L205.47 164.04 L206.91 164.86 L208.35 165.65 L209.79 166.43 L211.22 167.18 L212.66 167.9 L214.1 168.6 L215.53 169.28 L216.97 169.92 L218.41 170.55 L219.84 171.14 L221.28 171.71 L222.72 172.25 L224.15 172.75 L225.59 173.24 L227.03 173.69 L228.46 174.11 L229.9 174.5 L231.34 174.86 L232.78 175.18 L234.21 175.48 L235.65 175.75 L237.09 175.98 L238.52 176.18 L239.96 176.35 L241.4 176.49 L242.83 176.59 L244.27 176.67 L245.71 176.71 L247.14 176.71 L248.58 176.69 L250.02 176.63 L251.45 176.54 L252.89 176.42 L254.33 176.26 L255.77 176.07 L257.2 175.85 L258.64 175.6 L260.08 175.32 L261.51 175 L262.95 174.66 L264.39 174.28 L265.82 173.87 L267.26 173.44 L268.7 172.97 L270.13 172.47 L271.57 171.95 L273.01 171.39 L274.44 170.81 L275.88 170.2 L277.32 169.56 L278.76 168.9 L280.19 168.21 L281.63 167.5 L283.07 166.76 L284.5 165.99 L285.94 165.21 L287.38 164.4 L288.81 163.57 L290.25 162.72 L291.69 161.84 L293.12 160.95 L294.56 160.04 L296 159.11 L297.43 158.16 L298.87 157.2 L300.31 156.22 L301.75 155.22 L303.18 154.22 L304.62 153.19 L306.06 152.16 L307.49 151.11 L308.93 150.06 L310.37 148.99 L311.8 147.92 L313.24 146.84 L314.68 145.75 L316.11 144.66 L317.55 143.56 L318.99 142.45 L320.43 141.35 L321.86 140.24 L323.3 139.13 L324.74 138.02 L326.17 136.91 L327.61 135.81 L329.05 134.7 L330.48 133.6 L331.92 132.51 L333.36 131.42 L334.79 130.33 L336.23 129.26 L337.67 128.19 L339.1 127.13 L340.54 126.08 L341.98 125.05 L343.42 124.02 L344.85 123.01" clip-path="url(#c1)" fill="none" stroke-width="2.15" stroke="#0000ff" stroke-dasharray="8.6 6.6"/>
<path d="M31.35 123.2 L34.55 127.75 L31.35 132.3 L28.15 127.75Z" fill="none" stroke="#00f" stroke-width="2.1" stroke-linejoin="miter"/>
<path d="M101.02 97.21 L104.22 101.76 L101.02 106.31 L97.82 101.76Z" fill="none" stroke="#00f" stroke-width="2.1" stroke-linejoin="miter"/>
<path d="M170.68 134.97 L173.88 139.52 L170.68 144.07 L167.48 139.52Z" fill="none" stroke="#00f" stroke-width="2.1" stroke-linejoin="miter"/>
<path d="M240.35 171.84 L243.55 176.39 L240.35 180.94 L237.15 176.39Z" fill="none" stroke="#00f" stroke-width="2.1" stroke-linejoin="miter"/>
<path d="M310.02 144.7 L313.22 149.25 L310.02 153.8 L306.82 149.25Z" fill="none" stroke="#00f" stroke-width="2.1" stroke-linejoin="miter"/>
</g>
<text transform="translate(-2.553 293.9) scale(0.85 1)" font-size="10.8" fill="#2f2f2f">0</text>
<text transform="translate(22.758 293.9) scale(0.85 1)" font-size="10.8" fill="#2f2f2f">0.5</text>
<path transform="translate(55.727 293.9) scale(0.004482 -0.005273)" d="M763 0L583 0L583 1147Q518 1085 412.5 1023Q307 961 223 930L223 1104Q374 1175 487 1276Q600 1377 647 1472L763 1472Z" fill="#2f2f2f" stroke="#444" stroke-width="0.22" vector-effect="non-scaling-stroke"/>
<path transform="translate(81.038 293.9) scale(0.004482 -0.005273)" d="M763 0L583 0L583 1147Q518 1085 412.5 1023Q307 961 223 930L223 1104Q374 1175 487 1276Q600 1377 647 1472L763 1472Z" fill="#2f2f2f" stroke="#444" stroke-width="0.22" vector-effect="non-scaling-stroke"/><text transform="translate(86.144 293.9) scale(0.85 1)" font-size="10.8" fill="#2f2f2f">.5</text>
<text transform="translate(114.007 293.9) scale(0.85 1)" font-size="10.8" fill="#2f2f2f">2</text>
<text transform="translate(139.318 293.9) scale(0.85 1)" font-size="10.8" fill="#2f2f2f">2.5</text>
<text transform="translate(172.287 293.9) scale(0.85 1)" font-size="10.8" fill="#2f2f2f">3</text>
<text transform="translate(197.598 293.9) scale(0.85 1)" font-size="10.8" fill="#2f2f2f">3.5</text>
<text transform="translate(230.567 293.9) scale(0.85 1)" font-size="10.8" fill="#2f2f2f">4</text>
<text transform="translate(255.878 293.9) scale(0.85 1)" font-size="10.8" fill="#2f2f2f">4.5</text>
<text transform="translate(288.847 293.9) scale(0.85 1)" font-size="10.8" fill="#2f2f2f">5</text>
<text transform="translate(-17.571 282.96) scale(0.85 1)" font-size="10.8" fill="#2f2f2f">-</text><path transform="translate(-14.513 282.96) scale(0.004482 -0.005273)" d="M763 0L583 0L583 1147Q518 1085 412.5 1023Q307 961 223 930L223 1104Q374 1175 487 1276Q600 1377 647 1472L763 1472Z" fill="#2f2f2f" stroke="#444" stroke-width="0.22" vector-effect="non-scaling-stroke"/><text transform="translate(-9.406 282.96) scale(0.85 1)" font-size="10.8" fill="#2f2f2f">5</text>
<text transform="translate(-17.571 236.627) scale(0.85 1)" font-size="10.8" fill="#2f2f2f">-</text><path transform="translate(-14.513 236.627) scale(0.004482 -0.005273)" d="M763 0L583 0L583 1147Q518 1085 412.5 1023Q307 961 223 930L223 1104Q374 1175 487 1276Q600 1377 647 1472L763 1472Z" fill="#2f2f2f" stroke="#444" stroke-width="0.22" vector-effect="non-scaling-stroke"/><text transform="translate(-9.406 236.627) scale(0.85 1)" font-size="10.8" fill="#2f2f2f">0</text>
<text transform="translate(-12.465 190.294) scale(0.85 1)" font-size="10.8" fill="#2f2f2f">-5</text>
<text transform="translate(-9.406 143.96) scale(0.85 1)" font-size="10.8" fill="#2f2f2f">0</text>
<text transform="translate(-9.406 97.627) scale(0.85 1)" font-size="10.8" fill="#2f2f2f">5</text>
<path transform="translate(-14.513 51.294) scale(0.004482 -0.005273)" d="M763 0L583 0L583 1147Q518 1085 412.5 1023Q307 961 223 930L223 1104Q374 1175 487 1276Q600 1377 647 1472L763 1472Z" fill="#2f2f2f" stroke="#444" stroke-width="0.22" vector-effect="non-scaling-stroke"/><text transform="translate(-9.406 51.294) scale(0.85 1)" font-size="10.8" fill="#2f2f2f">0</text>
<path transform="translate(-14.513 4.96) scale(0.004482 -0.005273)" d="M763 0L583 0L583 1147Q518 1085 412.5 1023Q307 961 223 930L223 1104Q374 1175 487 1276Q600 1377 647 1472L763 1472Z" fill="#2f2f2f" stroke="#444" stroke-width="0.22" vector-effect="non-scaling-stroke"/><text transform="translate(-9.406 4.96) scale(0.85 1)" font-size="10.8" fill="#2f2f2f">5</text>
<text transform="translate(-22.3 139.6) rotate(-90) scale(1 0.85)" font-size="11.60" text-anchor="middle" fill="#2f2f2f">u</text>
<g transform="translate(208.5 8.5)">
<rect x="0" y="0" width="75.9" height="50.7" fill="#fff" stroke="#5e5e5e" stroke-width="1.0" vector-effect="non-scaling-stroke"/>
<g transform="scale(0.845 1)"><path d="M3.08 9.1H34.91" stroke="#000000" stroke-width="2.15" fill="none"/><path d="M18.7 5.4 L17.63 7.25 L15.49 7.25 L16.56 9.1 L15.49 10.95 L17.63 10.95 L18.7 12.8 L19.77 10.95 L21.9 10.95 L20.83 9.1 L21.9 7.25 L19.77 7.25Z" fill="#000" stroke="#000" stroke-width="1.5" stroke-linejoin="miter"/></g>
<text transform="translate(31.1 15.2) scale(0.89 1)" font-size="8.64" font-style="italic" fill="#7c7c7c" style="stroke:none">γ</text>
<text transform="translate(34.945 14.7) scale(0.89 1)" font-size="9.6" fill="#2f2f2f" style="stroke-width:0.2px">=</text><path transform="translate(39.935 14.7) scale(0.004172 -0.004687)" d="M763 0L583 0L583 1147Q518 1085 412.5 1023Q307 961 223 930L223 1104Q374 1175 487 1276Q600 1377 647 1472L763 1472Z" fill="#2f2f2f" stroke="#444" stroke-width="0.2" vector-effect="non-scaling-stroke"/><text transform="translate(44.688 14.7) scale(0.89 1)" font-size="9.6" fill="#2f2f2f" style="stroke-width:0.2px">.</text><path transform="translate(47.063 14.7) scale(0.004172 -0.004687)" d="M763 0L583 0L583 1147Q518 1085 412.5 1023Q307 961 223 930L223 1104Q374 1175 487 1276Q600 1377 647 1472L763 1472Z" fill="#2f2f2f" stroke="#444" stroke-width="0.2" vector-effect="non-scaling-stroke"/>
<text transform="translate(51.815 15.1) scale(0.89 1)" font-size="11.04" fill="#7c7c7c" style="stroke:none">×</text>
<path transform="translate(57.554 14.7) scale(0.004172 -0.004687)" d="M763 0L583 0L583 1147Q518 1085 412.5 1023Q307 961 223 930L223 1104Q374 1175 487 1276Q600 1377 647 1472L763 1472Z" fill="#2f2f2f" stroke="#444" stroke-width="0.2" vector-effect="non-scaling-stroke"/><text transform="translate(62.307 14.7) scale(0.89 1)" font-size="9.6" fill="#2f2f2f" style="stroke-width:0.2px">0</text>
<text transform="translate(67.259 9.7) scale(0.89 1)" font-size="7.68" fill="#2f2f2f" style="stroke-width:0.2px">-5</text>
<g transform="scale(0.845 1)"><path d="M3.08 25.3H34.91" stroke="#ff0000" stroke-width="2.15" fill="none" stroke-dasharray="8.6 1.2 4.2 1.2"/><circle cx="18.7" cy="25.3" r="3.4" fill="none" stroke="#f00" stroke-width="2.1"/></g>
<text transform="translate(31.1 31.4) scale(0.89 1)" font-size="8.64" font-style="italic" fill="#7c7c7c" style="stroke:none">γ</text>
<text transform="translate(34.945 30.9) scale(0.89 1)" font-size="9.6" fill="#2f2f2f" style="stroke-width:0.2px">=</text><path transform="translate(39.935 30.9) scale(0.004172 -0.004687)" d="M763 0L583 0L583 1147Q518 1085 412.5 1023Q307 961 223 930L223 1104Q374 1175 487 1276Q600 1377 647 1472L763 1472Z" fill="#2f2f2f" stroke="#444" stroke-width="0.2" vector-effect="non-scaling-stroke"/><text transform="translate(44.688 30.9) scale(0.89 1)" font-size="9.6" fill="#2f2f2f" style="stroke-width:0.2px">.3</text>
<text transform="translate(51.815 31.3) scale(0.89 1)" font-size="11.04" fill="#7c7c7c" style="stroke:none">×</text>
<path transform="translate(57.554 30.9) scale(0.004172 -0.004687)" d="M763 0L583 0L583 1147Q518 1085 412.5 1023Q307 961 223 930L223 1104Q374 1175 487 1276Q600 1377 647 1472L763 1472Z" fill="#2f2f2f" stroke="#444" stroke-width="0.2" vector-effect="non-scaling-stroke"/><text transform="translate(62.307 30.9) scale(0.89 1)" font-size="9.6" fill="#2f2f2f" style="stroke-width:0.2px">0</text>
<text transform="translate(67.259 25.9) scale(0.89 1)" font-size="7.68" fill="#2f2f2f" style="stroke-width:0.2px">-5</text>
<g transform="scale(0.845 1)"><path d="M3.08 41.7H34.91" stroke="#0000ff" stroke-width="2.15" fill="none" stroke-dasharray="8.6 6.7"/><path d="M18.7 37.15 L21.9 41.7 L18.7 46.25 L15.5 41.7Z" fill="none" stroke="#00f" stroke-width="2.1" stroke-linejoin="miter"/></g>
<text transform="translate(31.1 47.8) scale(0.89 1)" font-size="8.64" font-style="italic" fill="#7c7c7c" style="stroke:none">γ</text>
<text transform="translate(34.945 47.3) scale(0.89 1)" font-size="9.6" fill="#2f2f2f" style="stroke-width:0.2px">=</text><path transform="translate(39.935 47.3) scale(0.004172 -0.004687)" d="M763 0L583 0L583 1147Q518 1085 412.5 1023Q307 961 223 930L223 1104Q374 1175 487 1276Q600 1377 647 1472L763 1472Z" fill="#2f2f2f" stroke="#444" stroke-width="0.2" vector-effect="non-scaling-stroke"/><text transform="translate(44.688 47.3) scale(0.89 1)" font-size="9.6" fill="#2f2f2f" style="stroke-width:0.2px">.5</text>
<text transform="translate(51.815 47.7) scale(0.89 1)" font-size="11.04" fill="#7c7c7c" style="stroke:none">×</text>
<path transform="translate(57.554 47.3) scale(0.004172 -0.004687)" d="M763 0L583 0L583 1147Q518 1085 412.5 1023Q307 961 223 930L223 1104Q374 1175 487 1276Q600 1377 647 1472L763 1472Z" fill="#2f2f2f" stroke="#444" stroke-width="0.2" vector-effect="non-scaling-stroke"/><text transform="translate(62.307 47.3) scale(0.89 1)" font-size="9.6" fill="#2f2f2f" style="stroke-width:0.2px">0</text>
<text transform="translate(67.259 42.3) scale(0.89 1)" font-size="7.68" fill="#2f2f2f" style="stroke-width:0.2px">-5</text>
</g>
</g>
<g transform="translate(36 365.5) scale(1.01750 0.94748)">
<path d="M29.14 278v-3.3M29.14 0v3.3M58.28 278v-3.3M58.28 0v3.3M87.42 278v-3.3M87.42 0v3.3M116.56 278v-3.3M116.56 0v3.3M145.7 278v-3.3M145.7 0v3.3M174.84 278v-3.3M174.84 0v3.3M203.98 278v-3.3M203.98 0v3.3M233.12 278v-3.3M233.12 0v3.3M262.26 278v-3.3M262.26 0v3.3M0 243.25h3.3M291.4 243.25h-3.3M0 208.5h3.3M291.4 208.5h-3.3M0 173.75h3.3M291.4 173.75h-3.3M0 139h3.3M291.4 139h-3.3M0 104.25h3.3M291.4 104.25h-3.3M0 69.5h3.3M291.4 69.5h-3.3M0 34.75h3.3M291.4 34.75h-3.3" stroke="#5e5e5e" stroke-width="0.9" fill="none" vector-effect="non-scaling-stroke"/>
<rect x="0" y="0" width="291.4" height="278.0" fill="none" stroke="#5e5e5e" stroke-width="1.0" vector-effect="non-scaling-stroke"/>
<clipPath id="c2"><rect x="0" y="-1.6" width="344.85" height="281.2"/></clipPath>
<g transform="scale(0.845 1)">
<path d="M0 131.55 L1.44 135.31 L2.87 139.08 L4.31 142.84 L5.75 146.6 L7.18 150.36 L8.62 154.1 L10.06 157.83 L11.5 161.55 L12.93 165.24 L14.37 168.91 L15.81 172.55 L17.24 176.16 L18.68 179.73 L20.12 183.27 L21.55 186.77 L22.99 190.22 L24.43 193.63 L25.86 196.99 L27.3 200.29 L28.74 203.54 L30.17 206.72 L31.61 209.85 L33.05 212.91 L34.49 215.9 L35.92 218.82 L37.36 221.67 L38.8 224.44 L40.23 227.14 L41.67 229.75 L43.11 232.28 L44.54 234.73 L45.98 237.08 L47.42 239.35 L48.85 241.52 L50.29 243.6 L51.73 245.58 L53.16 247.47 L54.6 249.25 L56.04 250.94 L57.48 252.52 L58.91 254 L60.35 255.37 L61.79 256.63 L63.22 257.79 L64.66 258.84 L66.1 259.78 L67.53 260.6 L68.97 261.32 L70.41 261.92 L71.84 262.41 L73.28 262.78 L74.72 263.05 L76.15 263.19 L77.59 263.23 L79.03 263.15 L80.47 262.95 L81.9 262.65 L83.34 262.23 L84.78 261.69 L86.21 261.04 L87.65 260.28 L89.09 259.41 L90.52 258.43 L91.96 257.34 L93.4 256.14 L94.83 254.83 L96.27 253.42 L97.71 251.9 L99.14 250.28 L100.58 248.55 L102.02 246.72 L103.46 244.8 L104.89 242.78 L106.33 240.66 L107.77 238.45 L109.2 236.15 L110.64 233.76 L112.08 231.28 L113.51 228.71 L114.95 226.07 L116.39 223.34 L117.82 220.54 L119.26 217.66 L120.7 214.71 L122.14 211.69 L123.57 208.6 L125.01 205.45 L126.45 202.24 L127.88 198.97 L129.32 195.65 L130.76 192.27 L132.19 188.84 L133.63 185.37 L135.07 181.86 L136.5 178.3 L137.94 174.71 L139.38 171.09 L140.81 167.44 L142.25 163.76 L143.69 160.06 L145.13 156.34 L146.56 152.6 L148 148.85 L149.44 145.1 L150.87 141.33 L152.31 137.57 L153.75 133.8 L155.18 130.04 L156.62 126.29 L158.06 122.55 L159.49 118.83 L160.93 115.12 L162.37 111.44 L163.8 107.78 L165.24 104.15 L166.68 100.55 L168.12 96.99 L169.55 93.46 L170.99 89.98 L172.43 86.55 L173.86 83.16 L175.3 79.82 L176.74 76.54 L178.17 73.31 L179.61 70.14 L181.05 67.04 L182.48 64.01 L183.92 61.04 L185.36 58.14 L186.79 55.32 L188.23 52.58 L189.67 49.91 L191.11 47.33 L192.54 44.83 L193.98 42.42 L195.42 40.09 L196.85 37.86 L198.29 35.72 L199.73 33.68 L201.16 31.73 L202.6 29.88 L204.04 28.13 L205.47 26.48 L206.91 24.94 L208.35 23.5 L209.79 22.16 L211.22 20.94 L212.66 19.82 L214.1 18.81 L215.53 17.91 L216.97 17.13 L218.41 16.45 L219.84 15.89 L221.28 15.44 L222.72 15.11 L224.15 14.89 L225.59 14.78 L227.03 14.79 L228.46 14.91 L229.9 15.14 L231.34 15.49 L232.78 15.95 L234.21 16.53 L235.65 17.22 L237.09 18.02 L238.52 18.93 L239.96 19.95 L241.4 21.08 L242.83 22.32 L244.27 23.66 L245.71 25.12 L247.14 26.67 L248.58 28.33 L250.02 30.1 L251.45 31.96 L252.89 33.92 L254.33 35.97 L255.77 38.12 L257.2 40.37 L258.64 42.7 L260.08 45.13 L261.51 47.64 L262.95 50.23 L264.39 52.9 L265.82 55.66 L267.26 58.49 L268.7 61.39 L270.13 64.37 L271.57 67.41 L273.01 70.52 L274.44 73.7 L275.88 76.93 L277.32 80.22 L278.76 83.56 L280.19 86.96 L281.63 90.4 L283.07 93.89 L284.5 97.42 L285.94 100.98 L287.38 104.59 L288.81 108.22 L290.25 111.88 L291.69 115.57 L293.12 119.28 L294.56 123 L296 126.74 L297.43 130.5 L298.87 134.26 L300.31 138.02 L301.75 141.79 L303.18 145.55 L304.62 149.31 L306.06 153.05 L307.49 156.79 L308.93 160.51 L310.37 164.21 L311.8 167.88 L313.24 171.53 L314.68 175.15 L316.11 178.73 L317.55 182.28 L318.99 185.79 L320.43 189.26 L321.86 192.68 L323.3 196.05 L324.74 199.37 L326.17 202.63 L327.61 205.84 L329.05 208.98 L330.48 212.06 L331.92 215.07 L333.36 218.01 L334.79 220.88 L336.23 223.68 L337.67 226.39 L339.1 229.03 L340.54 231.58 L341.98 234.05 L343.42 236.43 L344.85 238.72" clip-path="url(#c2)" fill="none" stroke-width="2.15" stroke="#000000"/>
<path d="M31.35 205.59 L30.28 207.44 L28.15 207.44 L29.21 209.29 L28.15 211.14 L30.28 211.14 L31.35 212.99 L32.42 211.14 L34.55 211.14 L33.49 209.29 L34.55 207.44 L32.42 207.44Z" fill="#000" stroke="#000" stroke-width="1.5" stroke-linejoin="miter"/>
<path d="M101.02 244.31 L99.95 246.16 L97.81 246.16 L98.88 248.01 L97.81 249.86 L99.95 249.86 L101.02 251.71 L102.09 249.86 L104.22 249.86 L103.15 248.01 L104.22 246.16 L102.09 246.16Z" fill="#000" stroke="#000" stroke-width="1.5" stroke-linejoin="miter"/>
<path d="M170.68 87.02 L169.62 88.87 L167.48 88.87 L168.55 90.72 L167.48 92.57 L169.62 92.57 L170.68 94.42 L171.75 92.57 L173.89 92.57 L172.82 90.72 L173.89 88.87 L171.75 88.87Z" fill="#000" stroke="#000" stroke-width="1.5" stroke-linejoin="miter"/>
<path d="M240.35 16.55 L239.28 18.4 L237.15 18.4 L238.22 20.25 L237.15 22.1 L239.28 22.1 L240.35 23.95 L241.42 22.1 L243.56 22.1 L242.49 20.25 L243.56 18.4 L241.42 18.4Z" fill="#000" stroke="#000" stroke-width="1.5" stroke-linejoin="miter"/>
<path d="M310.02 159.61 L308.95 161.46 L306.81 161.46 L307.88 163.31 L306.81 165.16 L308.95 165.16 L310.02 167.01 L311.09 165.16 L313.22 165.16 L312.15 163.31 L313.22 161.46 L311.09 161.46Z" fill="#000" stroke="#000" stroke-width="1.5" stroke-linejoin="miter"/>
<path d="M0 134.39 L1.44 136.76 L2.87 139.13 L4.31 141.5 L5.75 143.86 L7.18 146.23 L8.62 148.58 L10.06 150.93 L11.5 153.27 L12.93 155.59 L14.37 157.9 L15.81 160.19 L17.24 162.46 L18.68 164.71 L20.12 166.94 L21.55 169.14 L22.99 171.31 L24.43 173.45 L25.86 175.56 L27.3 177.64 L28.74 179.68 L30.17 181.69 L31.61 183.65 L33.05 185.58 L34.49 187.46 L35.92 189.3 L37.36 191.09 L38.8 192.83 L40.23 194.53 L41.67 196.17 L43.11 197.76 L44.54 199.3 L45.98 200.78 L47.42 202.2 L48.85 203.57 L50.29 204.87 L51.73 206.12 L53.16 207.31 L54.6 208.43 L56.04 209.48 L57.48 210.48 L58.91 211.41 L60.35 212.27 L61.79 213.06 L63.22 213.79 L64.66 214.44 L66.1 215.03 L67.53 215.55 L68.97 216 L70.41 216.37 L71.84 216.68 L73.28 216.91 L74.72 217.08 L76.15 217.17 L77.59 217.19 L79.03 217.13 L80.47 217.01 L81.9 216.81 L83.34 216.54 L84.78 216.21 L86.21 215.8 L87.65 215.32 L89.09 214.76 L90.52 214.14 L91.96 213.46 L93.4 212.7 L94.83 211.87 L96.27 210.98 L97.71 210.02 L99.14 209 L100.58 207.91 L102.02 206.76 L103.46 205.55 L104.89 204.27 L106.33 202.94 L107.77 201.54 L109.2 200.09 L110.64 198.59 L112.08 197.02 L113.51 195.41 L114.95 193.74 L116.39 192.03 L117.82 190.26 L119.26 188.45 L120.7 186.59 L122.14 184.69 L123.57 182.74 L125.01 180.76 L126.45 178.73 L127.88 176.68 L129.32 174.58 L130.76 172.46 L132.19 170.3 L133.63 168.11 L135.07 165.9 L136.5 163.66 L137.94 161.4 L139.38 159.12 L140.81 156.82 L142.25 154.51 L143.69 152.18 L145.13 149.84 L146.56 147.48 L148 145.12 L149.44 142.76 L150.87 140.39 L152.31 138.02 L153.75 135.65 L155.18 133.29 L156.62 130.92 L158.06 128.57 L159.49 126.23 L160.93 123.9 L162.37 121.58 L163.8 119.28 L165.24 116.99 L166.68 114.73 L168.12 112.49 L169.55 110.27 L170.99 108.08 L172.43 105.92 L173.86 103.78 L175.3 101.68 L176.74 99.62 L178.17 97.59 L179.61 95.6 L181.05 93.65 L182.48 91.74 L183.92 89.87 L185.36 88.05 L186.79 86.28 L188.23 84.55 L189.67 82.88 L191.11 81.25 L192.54 79.68 L193.98 78.16 L195.42 76.7 L196.85 75.3 L198.29 73.96 L199.73 72.67 L201.16 71.45 L202.6 70.28 L204.04 69.19 L205.47 68.15 L206.91 67.18 L208.35 66.28 L209.79 65.44 L211.22 64.67 L212.66 63.97 L214.1 63.34 L215.53 62.77 L216.97 62.28 L218.41 61.86 L219.84 61.51 L221.28 61.23 L222.72 61.02 L224.15 60.88 L225.59 60.82 L227.03 60.83 L228.46 60.9 L229.9 61.05 L231.34 61.28 L232.78 61.57 L234.21 61.93 L235.65 62.37 L237.09 62.87 L238.52 63.45 L239.96 64.1 L241.4 64.81 L242.83 65.59 L244.27 66.44 L245.71 67.36 L247.14 68.34 L248.58 69.39 L250.02 70.5 L251.45 71.67 L252.89 72.91 L254.33 74.2 L255.77 75.56 L257.2 76.97 L258.64 78.44 L260.08 79.97 L261.51 81.55 L262.95 83.18 L264.39 84.87 L265.82 86.6 L267.26 88.39 L268.7 90.22 L270.13 92.09 L271.57 94.01 L273.01 95.97 L274.44 97.97 L275.88 100 L277.32 102.07 L278.76 104.18 L280.19 106.32 L281.63 108.49 L283.07 110.68 L284.5 112.9 L285.94 115.15 L287.38 117.42 L288.81 119.7 L290.25 122.01 L291.69 124.33 L293.12 126.66 L294.56 129.01 L296 131.36 L297.43 133.73 L298.87 136.09 L300.31 138.46 L301.75 140.83 L303.18 143.2 L304.62 145.57 L306.06 147.92 L307.49 150.27 L308.93 152.61 L310.37 154.94 L311.8 157.25 L313.24 159.55 L314.68 161.83 L316.11 164.08 L317.55 166.31 L318.99 168.52 L320.43 170.7 L321.86 172.85 L323.3 174.98 L324.74 177.06 L326.17 179.12 L327.61 181.13 L329.05 183.11 L330.48 185.04 L331.92 186.94 L333.36 188.79 L334.79 190.59 L336.23 192.35 L337.67 194.06 L339.1 195.71 L340.54 197.32 L341.98 198.87 L343.42 200.37 L344.85 201.81" clip-path="url(#c2)" fill="none" stroke-width="2.15" stroke="#ff0000" stroke-dasharray="8.6 1.2 4.2 1.2"/>
<circle cx="31.35" cy="183.3" r="3.4" fill="none" stroke="#f00" stroke-width="2.1"/>
<circle cx="101.02" cy="207.57" r="3.4" fill="none" stroke="#f00" stroke-width="2.1"/>
<circle cx="170.68" cy="108.54" r="3.4" fill="none" stroke="#f00" stroke-width="2.1"/>
<circle cx="240.35" cy="64.28" r="3.4" fill="none" stroke="#f00" stroke-width="2.1"/>
<circle cx="310.02" cy="154.38" r="3.4" fill="none" stroke="#f00" stroke-width="2.1"/>
<path d="M0 133.95 L1.44 134.93 L2.87 135.91 L4.31 136.89 L5.75 137.87 L7.18 138.86 L8.62 139.84 L10.06 140.82 L11.5 141.81 L12.93 142.79 L14.37 143.76 L15.81 144.73 L17.24 145.7 L18.68 146.66 L20.12 147.62 L21.55 148.56 L22.99 149.5 L24.43 150.42 L25.86 151.34 L27.3 152.25 L28.74 153.14 L30.17 154.02 L31.61 154.89 L33.05 155.74 L34.49 156.57 L35.92 157.39 L37.36 158.2 L38.8 158.98 L40.23 159.75 L41.67 160.5 L43.11 161.23 L44.54 161.94 L45.98 162.62 L47.42 163.29 L48.85 163.93 L50.29 164.55 L51.73 165.15 L53.16 165.72 L54.6 166.27 L56.04 166.79 L57.48 167.29 L58.91 167.76 L60.35 168.2 L61.79 168.62 L63.22 169.01 L64.66 169.38 L66.1 169.71 L67.53 170.02 L68.97 170.3 L70.41 170.55 L71.84 170.77 L73.28 170.96 L74.72 171.12 L76.15 171.26 L77.59 171.36 L79.03 171.43 L80.47 171.48 L81.9 171.49 L83.34 171.48 L84.78 171.43 L86.21 171.35 L87.65 171.25 L89.09 171.11 L90.52 170.95 L91.96 170.76 L93.4 170.53 L94.83 170.28 L96.27 170 L97.71 169.69 L99.14 169.35 L100.58 168.99 L102.02 168.6 L103.46 168.18 L104.89 167.73 L106.33 167.26 L107.77 166.76 L109.2 166.23 L110.64 165.68 L112.08 165.11 L113.51 164.51 L114.95 163.89 L116.39 163.24 L117.82 162.58 L119.26 161.89 L120.7 161.18 L122.14 160.45 L123.57 159.7 L125.01 158.93 L126.45 158.14 L127.88 157.34 L129.32 156.52 L130.76 155.68 L132.19 154.83 L133.63 153.96 L135.07 153.08 L136.5 152.19 L137.94 151.28 L139.38 150.36 L140.81 149.44 L142.25 148.5 L143.69 147.55 L145.13 146.6 L146.56 145.64 L148 144.67 L149.44 143.7 L150.87 142.72 L152.31 141.74 L153.75 140.76 L155.18 139.77 L156.62 138.79 L158.06 137.81 L159.49 136.82 L160.93 135.84 L162.37 134.86 L163.8 133.89 L165.24 132.92 L166.68 131.95 L168.12 130.99 L169.55 130.04 L170.99 129.1 L172.43 128.17 L173.86 127.24 L175.3 126.33 L176.74 125.43 L178.17 124.54 L179.61 123.67 L181.05 122.81 L182.48 121.96 L183.92 121.13 L185.36 120.31 L186.79 119.52 L188.23 118.74 L189.67 117.98 L191.11 117.24 L192.54 116.52 L193.98 115.81 L195.42 115.14 L196.85 114.48 L198.29 113.84 L199.73 113.23 L201.16 112.64 L202.6 112.08 L204.04 111.54 L205.47 111.03 L206.91 110.54 L208.35 110.08 L209.79 109.64 L211.22 109.23 L212.66 108.85 L214.1 108.5 L215.53 108.17 L216.97 107.88 L218.41 107.61 L219.84 107.37 L221.28 107.16 L222.72 106.98 L224.15 106.83 L225.59 106.7 L227.03 106.61 L228.46 106.55 L229.9 106.51 L231.34 106.51 L232.78 106.54 L234.21 106.59 L235.65 106.68 L237.09 106.8 L238.52 106.94 L239.96 107.12 L241.4 107.32 L242.83 107.55 L244.27 107.82 L245.71 108.11 L247.14 108.43 L248.58 108.77 L250.02 109.15 L251.45 109.55 L252.89 109.98 L254.33 110.44 L255.77 110.92 L257.2 111.43 L258.64 111.96 L260.08 112.52 L261.51 113.1 L262.95 113.71 L264.39 114.34 L265.82 114.99 L267.26 115.67 L268.7 116.36 L270.13 117.08 L271.57 117.82 L273.01 118.57 L274.44 119.35 L275.88 120.14 L277.32 120.95 L278.76 121.78 L280.19 122.62 L281.63 123.48 L283.07 124.35 L284.5 125.24 L285.94 126.14 L287.38 127.05 L288.81 127.97 L290.25 128.9 L291.69 129.84 L293.12 130.79 L294.56 131.75 L296 132.71 L297.43 133.68 L298.87 134.65 L300.31 135.63 L301.75 136.61 L303.18 137.6 L304.62 138.58 L306.06 139.56 L307.49 140.55 L308.93 141.53 L310.37 142.51 L311.8 143.49 L313.24 144.46 L314.68 145.43 L316.11 146.39 L317.55 147.35 L318.99 148.3 L320.43 149.24 L321.86 150.17 L323.3 151.09 L324.74 151.99 L326.17 152.89 L327.61 153.77 L329.05 154.64 L330.48 155.5 L331.92 156.34 L333.36 157.17 L334.79 157.97 L336.23 158.77 L337.67 159.54 L339.1 160.29 L340.54 161.03 L341.98 161.74 L343.42 162.43 L344.85 163.1" clip-path="url(#c2)" fill="none" stroke-width="2.15" stroke="#0000ff" stroke-dasharray="8.6 6.6"/>
<path d="M31.35 150.18 L34.55 154.73 L31.35 159.28 L28.15 154.73Z" fill="none" stroke="#00f" stroke-width="2.1" stroke-linejoin="miter"/>
<path d="M101.02 164.32 L104.22 168.87 L101.02 173.42 L97.82 168.87Z" fill="none" stroke="#00f" stroke-width="2.1" stroke-linejoin="miter"/>
<path d="M170.68 124.75 L173.88 129.3 L170.68 133.85 L167.48 129.3Z" fill="none" stroke="#00f" stroke-width="2.1" stroke-linejoin="miter"/>
<path d="M240.35 102.62 L243.55 107.17 L240.35 111.72 L237.15 107.17Z" fill="none" stroke="#00f" stroke-width="2.1" stroke-linejoin="miter"/>
<path d="M310.02 137.72 L313.22 142.27 L310.02 146.82 L306.82 142.27Z" fill="none" stroke="#00f" stroke-width="2.1" stroke-linejoin="miter"/>
</g>
<text transform="translate(-2.553 293.9) scale(0.85 1)" font-size="10.8" fill="#2f2f2f">0</text>
<text transform="translate(22.758 293.9) scale(0.85 1)" font-size="10.8" fill="#2f2f2f">0.5</text>
<path transform="translate(55.727 293.9) scale(0.004482 -0.005273)" d="M763 0L583 0L583 1147Q518 1085 412.5 1023Q307 961 223 930L223 1104Q374 1175 487 1276Q600 1377 647 1472L763 1472Z" fill="#2f2f2f" stroke="#444" stroke-width="0.22" vector-effect="non-scaling-stroke"/>
<path transform="translate(81.038 293.9) scale(0.004482 -0.005273)" d="M763 0L583 0L583 1147Q518 1085 412.5 1023Q307 961 223 930L223 1104Q374 1175 487 1276Q600 1377 647 1472L763 1472Z" fill="#2f2f2f" stroke="#444" stroke-width="0.22" vector-effect="non-scaling-stroke"/><text transform="translate(86.144 293.9) scale(0.85 1)" font-size="10.8" fill="#2f2f2f">.5</text>
<text transform="translate(114.007 293.9) scale(0.85 1)" font-size="10.8" fill="#2f2f2f">2</text>
<text transform="translate(139.318 293.9) scale(0.85 1)" font-size="10.8" fill="#2f2f2f">2.5</text>
<text transform="translate(172.287 293.9) scale(0.85 1)" font-size="10.8" fill="#2f2f2f">3</text>
<text transform="translate(197.598 293.9) scale(0.85 1)" font-size="10.8" fill="#2f2f2f">3.5</text>
<text transform="translate(230.567 293.9) scale(0.85 1)" font-size="10.8" fill="#2f2f2f">4</text>
<text transform="translate(255.878 293.9) scale(0.85 1)" font-size="10.8" fill="#2f2f2f">4.5</text>
<text transform="translate(288.847 293.9) scale(0.85 1)" font-size="10.8" fill="#2f2f2f">5</text>
<text transform="translate(-12.465 282.061) scale(0.85 1)" font-size="10.8" fill="#2f2f2f">-8</text>
<text transform="translate(-12.465 247.311) scale(0.85 1)" font-size="10.8" fill="#2f2f2f">-6</text>
<text transform="translate(-12.465 212.561) scale(0.85 1)" font-size="10.8" fill="#2f2f2f">-4</text>
<text transform="translate(-12.465 177.811) scale(0.85 1)" font-size="10.8" fill="#2f2f2f">-2</text>
<text transform="translate(-9.406 143.061) scale(0.85 1)" font-size="10.8" fill="#2f2f2f">0</text>
<text transform="translate(-9.406 108.311) scale(0.85 1)" font-size="10.8" fill="#2f2f2f">2</text>
<text transform="translate(-9.406 73.561) scale(0.85 1)" font-size="10.8" fill="#2f2f2f">4</text>
<text transform="translate(-9.406 38.811) scale(0.85 1)" font-size="10.8" fill="#2f2f2f">6</text>
<text transform="translate(-9.406 4.061) scale(0.85 1)" font-size="10.8" fill="#2f2f2f">8</text>
<text transform="translate(143.535 309.6) scale(0.85 1)" font-size="11.6" fill="#2f2f2f">x</text>
<text transform="translate(-21.7 142) rotate(-90) scale(1 0.85)" font-size="9.86" text-anchor="middle" fill="#626262" font-style="italic" style="stroke:none">σ</text><text transform="translate(-16.6 136.1) rotate(-90) scale(1 0.85)" font-size="9.74" text-anchor="middle" fill="#2f2f2f">x</text>
<g transform="translate(204.8 220.6)">
<rect x="0" y="0" width="75.9" height="50.7" fill="#fff" stroke="#5e5e5e" stroke-width="1.0" vector-effect="non-scaling-stroke"/>
<g transform="scale(0.845 1)"><path d="M3.08 9.1H34.91" stroke="#000000" stroke-width="2.15" fill="none"/><path d="M18.7 5.4 L17.63 7.25 L15.49 7.25 L16.56 9.1 L15.49 10.95 L17.63 10.95 L18.7 12.8 L19.77 10.95 L21.9 10.95 L20.83 9.1 L21.9 7.25 L19.77 7.25Z" fill="#000" stroke="#000" stroke-width="1.5" stroke-linejoin="miter"/></g>
<text transform="translate(31.1 15.2) scale(0.89 1)" font-size="8.64" font-style="italic" fill="#7c7c7c" style="stroke:none">γ</text>
<text transform="translate(34.945 14.7) scale(0.89 1)" font-size="9.6" fill="#2f2f2f" style="stroke-width:0.2px">=</text><path transform="translate(39.935 14.7) scale(0.004172 -0.004687)" d="M763 0L583 0L583 1147Q518 1085 412.5 1023Q307 961 223 930L223 1104Q374 1175 487 1276Q600 1377 647 1472L763 1472Z" fill="#2f2f2f" stroke="#444" stroke-width="0.2" vector-effect="non-scaling-stroke"/><text transform="translate(44.688 14.7) scale(0.89 1)" font-size="9.6" fill="#2f2f2f" style="stroke-width:0.2px">.</text><path transform="translate(47.063 14.7) scale(0.004172 -0.004687)" d="M763 0L583 0L583 1147Q518 1085 412.5 1023Q307 961 223 930L223 1104Q374 1175 487 1276Q600 1377 647 1472L763 1472Z" fill="#2f2f2f" stroke="#444" stroke-width="0.2" vector-effect="non-scaling-stroke"/>
<text transform="translate(51.815 15.1) scale(0.89 1)" font-size="11.04" fill="#7c7c7c" style="stroke:none">×</text>
<path transform="translate(57.554 14.7) scale(0.004172 -0.004687)" d="M763 0L583 0L583 1147Q518 1085 412.5 1023Q307 961 223 930L223 1104Q374 1175 487 1276Q600 1377 647 1472L763 1472Z" fill="#2f2f2f" stroke="#444" stroke-width="0.2" vector-effect="non-scaling-stroke"/><text transform="translate(62.307 14.7) scale(0.89 1)" font-size="9.6" fill="#2f2f2f" style="stroke-width:0.2px">0</text>
<text transform="translate(67.259 9.7) scale(0.89 1)" font-size="7.68" fill="#2f2f2f" style="stroke-width:0.2px">-5</text>
<g transform="scale(0.845 1)"><path d="M3.08 25.3H34.91" stroke="#ff0000" stroke-width="2.15" fill="none" stroke-dasharray="8.6 1.2 4.2 1.2"/><circle cx="18.7" cy="25.3" r="3.4" fill="none" stroke="#f00" stroke-width="2.1"/></g>
<text transform="translate(31.1 31.4) scale(0.89 1)" font-size="8.64" font-style="italic" fill="#7c7c7c" style="stroke:none">γ</text>
<text transform="translate(34.945 30.9) scale(0.89 1)" font-size="9.6" fill="#2f2f2f" style="stroke-width:0.2px">=</text><path transform="translate(39.935 30.9) scale(0.004172 -0.004687)" d="M763 0L583 0L583 1147Q518 1085 412.5 1023Q307 961 223 930L223 1104Q374 1175 487 1276Q600 1377 647 1472L763 1472Z" fill="#2f2f2f" stroke="#444" stroke-width="0.2" vector-effect="non-scaling-stroke"/><text transform="translate(44.688 30.9) scale(0.89 1)" font-size="9.6" fill="#2f2f2f" style="stroke-width:0.2px">.3</text>
<text transform="translate(51.815 31.3) scale(0.89 1)" font-size="11.04" fill="#7c7c7c" style="stroke:none">×</text>
<path transform="translate(57.554 30.9) scale(0.004172 -0.004687)" d="M763 0L583 0L583 1147Q518 1085 412.5 1023Q307 961 223 930L223 1104Q374 1175 487 1276Q600 1377 647 1472L763 1472Z" fill="#2f2f2f" stroke="#444" stroke-width="0.2" vector-effect="non-scaling-stroke"/><text transform="translate(62.307 30.9) scale(0.89 1)" font-size="9.6" fill="#2f2f2f" style="stroke-width:0.2px">0</text>
<text transform="translate(67.259 25.9) scale(0.89 1)" font-size="7.68" fill="#2f2f2f" style="stroke-width:0.2px">-5</text>
<g transform="scale(0.845 1)"><path d="M3.08 41.7H34.91" stroke="#0000ff" stroke-width="2.15" fill="none" stroke-dasharray="8.6 6.7"/><path d="M18.7 37.15 L21.9 41.7 L18.7 46.25 L15.5 41.7Z" fill="none" stroke="#00f" stroke-width="2.1" stroke-linejoin="miter"/></g>
<text transform="translate(31.1 47.8) scale(0.89 1)" font-size="8.64" font-style="italic" fill="#7c7c7c" style="stroke:none">γ</text>
<text transform="translate(34.945 47.3) scale(0.89 1)" font-size="9.6" fill="#2f2f2f" style="stroke-width:0.2px">=</text><path transform="translate(39.935 47.3) scale(0.004172 -0.004687)" d="M763 0L583 0L583 1147Q518 1085 412.5 1023Q307 961 223 930L223 1104Q374 1175 487 1276Q600 1377 647 1472L763 1472Z" fill="#2f2f2f" stroke="#444" stroke-width="0.2" vector-effect="non-scaling-stroke"/><text transform="translate(44.688 47.3) scale(0.89 1)" font-size="9.6" fill="#2f2f2f" style="stroke-width:0.2px">.5</text>
<text transform="translate(51.815 47.7) scale(0.89 1)" font-size="11.04" fill="#7c7c7c" style="stroke:none">×</text>
<path transform="translate(57.554 47.3) scale(0.004172 -0.004687)" d="M763 0L583 0L583 1147Q518 1085 412.5 1023Q307 961 223 930L223 1104Q374 1175 487 1276Q600 1377 647 1472L763 1472Z" fill="#2f2f2f" stroke="#444" stroke-width="0.2" vector-effect="non-scaling-stroke"/><text transform="translate(62.307 47.3) scale(0.89 1)" font-size="9.6" fill="#2f2f2f" style="stroke-width:0.2px">0</text>
<text transform="translate(67.259 42.3) scale(0.89 1)" font-size="7.68" fill="#2f2f2f" style="stroke-width:0.2px">-5</text>
</g>
</g>
<g transform="translate(414.5 365.5) scale(0.91627 0.95144)">
<path d="M29.14 278v-3.3M29.14 0v3.3M58.28 278v-3.3M58.28 0v3.3M87.42 278v-3.3M87.42 0v3.3M116.56 278v-3.3M116.56 0v3.3M145.7 278v-3.3M145.7 0v3.3M174.84 278v-3.3M174.84 0v3.3M203.98 278v-3.3M203.98 0v3.3M233.12 278v-3.3M233.12 0v3.3M262.26 278v-3.3M262.26 0v3.3M0 250.2h3.3M291.4 250.2h-3.3M0 222.4h3.3M291.4 222.4h-3.3M0 194.6h3.3M291.4 194.6h-3.3M0 166.8h3.3M291.4 166.8h-3.3M0 139h3.3M291.4 139h-3.3M0 111.2h3.3M291.4 111.2h-3.3M0 83.4h3.3M291.4 83.4h-3.3M0 55.6h3.3M291.4 55.6h-3.3M0 27.8h3.3M291.4 27.8h-3.3" stroke="#5e5e5e" stroke-width="0.9" fill="none" vector-effect="non-scaling-stroke"/>
<rect x="0" y="0" width="291.4" height="278.0" fill="none" stroke="#5e5e5e" stroke-width="1.0" vector-effect="non-scaling-stroke"/>
<clipPath id="c3"><rect x="0" y="-1.6" width="344.85" height="281.2"/></clipPath>
<g transform="scale(0.845 1)">
<path d="M0 131.83 L1.44 135.34 L2.87 138.84 L4.31 142.35 L5.75 145.85 L7.18 149.34 L8.62 152.83 L10.06 156.3 L11.5 159.76 L12.93 163.2 L14.37 166.62 L15.81 170.01 L17.24 173.37 L18.68 176.7 L20.12 180 L21.55 183.26 L22.99 186.47 L24.43 189.65 L25.86 192.78 L27.3 195.85 L28.74 198.88 L30.17 201.85 L31.61 204.76 L33.05 207.62 L34.49 210.41 L35.92 213.13 L37.36 215.79 L38.8 218.37 L40.23 220.89 L41.67 223.32 L43.11 225.68 L44.54 227.96 L45.98 230.16 L47.42 232.28 L48.85 234.31 L50.29 236.25 L51.73 238.1 L53.16 239.86 L54.6 241.53 L56.04 243.1 L57.48 244.58 L58.91 245.96 L60.35 247.25 L61.79 248.43 L63.22 249.52 L64.66 250.5 L66.1 251.38 L67.53 252.15 L68.97 252.82 L70.41 253.39 L71.84 253.86 L73.28 254.21 L74.72 254.46 L76.15 254.61 L77.59 254.65 L79.03 254.58 L80.47 254.41 L81.9 254.13 L83.34 253.74 L84.78 253.25 L86.21 252.65 L87.65 251.95 L89.09 251.15 L90.52 250.24 L91.96 249.23 L93.4 248.12 L94.83 246.91 L96.27 245.6 L97.71 244.19 L99.14 242.69 L100.58 241.09 L102.02 239.4 L103.46 237.61 L104.89 235.73 L106.33 233.77 L107.77 231.72 L109.2 229.58 L110.64 227.36 L112.08 225.06 L113.51 222.68 L114.95 220.22 L116.39 217.68 L117.82 215.08 L119.26 212.4 L120.7 209.66 L122.14 206.86 L123.57 203.99 L125.01 201.06 L126.45 198.07 L127.88 195.03 L129.32 191.94 L130.76 188.8 L132.19 185.61 L133.63 182.38 L135.07 179.11 L136.5 175.81 L137.94 172.47 L139.38 169.1 L140.81 165.7 L142.25 162.28 L143.69 158.83 L145.13 155.37 L146.56 151.89 L148 148.4 L149.44 144.91 L150.87 141.4 L152.31 137.9 L153.75 134.39 L155.18 130.89 L156.62 127.4 L158.06 123.92 L159.49 120.45 L160.93 117 L162.37 113.57 L163.8 110.16 L165.24 106.78 L166.68 103.43 L168.12 100.11 L169.55 96.83 L170.99 93.58 L172.43 90.38 L173.86 87.22 L175.3 84.11 L176.74 81.05 L178.17 78.04 L179.61 75.09 L181.05 72.2 L182.48 69.37 L183.92 66.6 L185.36 63.9 L186.79 61.27 L188.23 58.71 L189.67 56.23 L191.11 53.82 L192.54 51.49 L193.98 49.24 L195.42 47.07 L196.85 44.98 L198.29 42.98 L199.73 41.08 L201.16 39.26 L202.6 37.53 L204.04 35.89 L205.47 34.35 L206.91 32.91 L208.35 31.56 L209.79 30.31 L211.22 29.17 L212.66 28.12 L214.1 27.17 L215.53 26.33 L216.97 25.59 L218.41 24.96 L219.84 24.43 L221.28 24 L222.72 23.69 L224.15 23.47 L225.59 23.37 L227.03 23.36 L228.46 23.47 L229.9 23.68 L231.34 24 L232.78 24.42 L234.21 24.95 L235.65 25.59 L237.09 26.32 L238.52 27.16 L239.96 28.11 L241.4 29.15 L242.83 30.3 L244.27 31.55 L245.71 32.89 L247.14 34.34 L248.58 35.87 L250.02 37.51 L251.45 39.24 L252.89 41.05 L254.33 42.96 L255.77 44.96 L257.2 47.04 L258.64 49.21 L260.08 51.46 L261.51 53.79 L262.95 56.2 L264.39 58.69 L265.82 61.24 L267.26 63.87 L268.7 66.57 L270.13 69.34 L271.57 72.17 L273.01 75.06 L274.44 78.01 L275.88 81.02 L277.32 84.08 L278.76 87.19 L280.19 90.34 L281.63 93.55 L283.07 96.79 L284.5 100.07 L285.94 103.39 L287.38 106.74 L288.81 110.12 L290.25 113.53 L291.69 116.96 L293.12 120.41 L294.56 123.88 L296 127.36 L297.43 130.85 L298.87 134.35 L300.31 137.86 L301.75 141.36 L303.18 144.87 L304.62 148.36 L306.06 151.85 L307.49 155.33 L308.93 158.79 L310.37 162.24 L311.8 165.66 L313.24 169.06 L314.68 172.43 L316.11 175.77 L317.55 179.08 L318.99 182.35 L320.43 185.58 L321.86 188.76 L323.3 191.9 L324.74 195 L326.17 198.04 L327.61 201.02 L329.05 203.95 L330.48 206.82 L331.92 209.63 L333.36 212.37 L334.79 215.05 L336.23 217.66 L337.67 220.19 L339.1 222.65 L340.54 225.03 L341.98 227.33 L343.42 229.55 L344.85 231.69" clip-path="url(#c3)" fill="none" stroke-width="2.15" stroke="#000000"/>
<path d="M31.35 200.54 L30.28 202.39 L28.15 202.39 L29.21 204.24 L28.15 206.09 L30.28 206.09 L31.35 207.94 L32.42 206.09 L34.55 206.09 L33.49 204.24 L34.55 202.39 L32.42 202.39Z" fill="#000" stroke="#000" stroke-width="1.5" stroke-linejoin="miter"/>
<path d="M101.02 236.89 L99.95 238.74 L97.81 238.74 L98.88 240.59 L97.81 242.44 L99.95 242.44 L101.02 244.29 L102.09 242.44 L104.22 242.44 L103.15 240.59 L104.22 238.74 L102.09 238.74Z" fill="#000" stroke="#000" stroke-width="1.5" stroke-linejoin="miter"/>
<path d="M170.68 90.57 L169.62 92.42 L167.48 92.42 L168.55 94.27 L167.48 96.12 L169.62 96.12 L170.68 97.97 L171.75 96.12 L173.89 96.12 L172.82 94.27 L173.89 92.42 L171.75 92.42Z" fill="#000" stroke="#000" stroke-width="1.5" stroke-linejoin="miter"/>
<path d="M240.35 24.68 L239.28 26.53 L237.15 26.53 L238.22 28.38 L237.15 30.23 L239.28 30.23 L240.35 32.08 L241.42 30.23 L243.56 30.23 L242.49 28.38 L243.56 26.53 L241.42 26.53Z" fill="#000" stroke="#000" stroke-width="1.5" stroke-linejoin="miter"/>
<path d="M310.02 157.7 L308.95 159.55 L306.81 159.55 L307.88 161.4 L306.81 163.25 L308.95 163.25 L310.02 165.1 L311.09 163.25 L313.22 163.25 L312.15 161.4 L313.22 159.55 L311.09 159.55Z" fill="#000" stroke="#000" stroke-width="1.5" stroke-linejoin="miter"/>
<path d="M0 143.26 L1.44 145.42 L2.87 147.58 L4.31 149.73 L5.75 151.87 L7.18 154 L8.62 156.11 L10.06 158.21 L11.5 160.29 L12.93 162.35 L14.37 164.39 L15.81 166.41 L17.24 168.4 L18.68 170.37 L20.12 172.3 L21.55 174.21 L22.99 176.08 L24.43 177.92 L25.86 179.72 L27.3 181.49 L28.74 183.21 L30.17 184.9 L31.61 186.54 L33.05 188.14 L34.49 189.7 L35.92 191.21 L37.36 192.67 L38.8 194.08 L40.23 195.44 L41.67 196.75 L43.11 198 L44.54 199.21 L45.98 200.35 L47.42 201.44 L48.85 202.47 L50.29 203.45 L51.73 204.36 L53.16 205.22 L54.6 206.01 L56.04 206.74 L57.48 207.41 L58.91 208.02 L60.35 208.56 L61.79 209.04 L63.22 209.46 L64.66 209.81 L66.1 210.1 L67.53 210.32 L68.97 210.47 L70.41 210.56 L71.84 210.58 L73.28 210.54 L74.72 210.43 L76.15 210.26 L77.59 210.02 L79.03 209.72 L80.47 209.35 L81.9 208.91 L83.34 208.42 L84.78 207.85 L86.21 207.23 L87.65 206.54 L89.09 205.79 L90.52 204.98 L91.96 204.11 L93.4 203.18 L94.83 202.18 L96.27 201.14 L97.71 200.03 L99.14 198.87 L100.58 197.65 L102.02 196.38 L103.46 195.06 L104.89 193.68 L106.33 192.26 L107.77 190.78 L109.2 189.26 L110.64 187.69 L112.08 186.08 L113.51 184.42 L114.95 182.73 L116.39 180.99 L117.82 179.21 L119.26 177.4 L120.7 175.55 L122.14 173.67 L123.57 171.75 L125.01 169.81 L126.45 167.84 L127.88 165.84 L129.32 163.81 L130.76 161.77 L132.19 159.7 L133.63 157.61 L135.07 155.51 L136.5 153.39 L137.94 151.26 L139.38 149.12 L140.81 146.96 L142.25 144.8 L143.69 142.64 L145.13 140.47 L146.56 138.3 L148 136.13 L149.44 133.96 L150.87 131.8 L152.31 129.65 L153.75 127.5 L155.18 125.36 L156.62 123.24 L158.06 121.13 L159.49 119.04 L160.93 116.96 L162.37 114.91 L163.8 112.88 L165.24 110.87 L166.68 108.89 L168.12 106.93 L169.55 105.01 L170.99 103.11 L172.43 101.25 L173.86 99.43 L175.3 97.64 L176.74 95.89 L178.17 94.17 L179.61 92.5 L181.05 90.87 L182.48 89.29 L183.92 87.75 L185.36 86.26 L186.79 84.82 L188.23 83.43 L189.67 82.08 L191.11 80.79 L192.54 79.56 L193.98 78.38 L195.42 77.25 L196.85 76.18 L198.29 75.17 L199.73 74.22 L201.16 73.32 L202.6 72.49 L204.04 71.72 L205.47 71.01 L206.91 70.36 L208.35 69.78 L209.79 69.26 L211.22 68.8 L212.66 68.41 L214.1 68.08 L215.53 67.82 L216.97 67.62 L218.41 67.49 L219.84 67.42 L221.28 67.42 L222.72 67.49 L224.15 67.62 L225.59 67.82 L227.03 68.08 L228.46 68.41 L229.9 68.8 L231.34 69.26 L232.78 69.78 L234.21 70.36 L235.65 71.01 L237.09 71.72 L238.52 72.49 L239.96 73.33 L241.4 74.22 L242.83 75.17 L244.27 76.19 L245.71 77.26 L247.14 78.38 L248.58 79.56 L250.02 80.8 L251.45 82.09 L252.89 83.43 L254.33 84.83 L255.77 86.27 L257.2 87.76 L258.64 89.3 L260.08 90.88 L261.51 92.51 L262.95 94.18 L264.39 95.9 L265.82 97.65 L267.26 99.44 L268.7 101.26 L270.13 103.12 L271.57 105.02 L273.01 106.94 L274.44 108.9 L275.88 110.88 L277.32 112.89 L278.76 114.92 L280.19 116.98 L281.63 119.05 L283.07 121.14 L284.5 123.25 L285.94 125.38 L287.38 127.51 L288.81 129.66 L290.25 131.81 L291.69 133.98 L293.12 136.14 L294.56 138.31 L296 140.48 L297.43 142.65 L298.87 144.81 L300.31 146.97 L301.75 149.13 L303.18 151.27 L304.62 153.4 L306.06 155.52 L307.49 157.62 L308.93 159.71 L310.37 161.78 L311.8 163.82 L313.24 165.85 L314.68 167.85 L316.11 169.82 L317.55 171.76 L318.99 173.68 L320.43 175.56 L321.86 177.41 L323.3 179.22 L324.74 181 L326.17 182.73 L327.61 184.43 L329.05 186.09 L330.48 187.7 L331.92 189.27 L333.36 190.79 L334.79 192.26 L336.23 193.69 L337.67 195.06 L339.1 196.39 L340.54 197.66 L341.98 198.87 L343.42 200.04 L344.85 201.14" clip-path="url(#c3)" fill="none" stroke-width="2.15" stroke="#ff0000" stroke-dasharray="8.6 1.2 4.2 1.2"/>
<circle cx="31.35" cy="186.25" r="3.4" fill="none" stroke="#f00" stroke-width="2.1"/>
<circle cx="101.02" cy="197.27" r="3.4" fill="none" stroke="#f00" stroke-width="2.1"/>
<circle cx="170.68" cy="103.51" r="3.4" fill="none" stroke="#f00" stroke-width="2.1"/>
<circle cx="240.35" cy="73.57" r="3.4" fill="none" stroke="#f00" stroke-width="2.1"/>
<circle cx="310.02" cy="161.28" r="3.4" fill="none" stroke="#f00" stroke-width="2.1"/>
<path d="M0 136.72 L1.44 137.81 L2.87 138.91 L4.31 140.01 L5.75 141.11 L7.18 142.21 L8.62 143.3 L10.06 144.39 L11.5 145.48 L12.93 146.56 L14.37 147.63 L15.81 148.69 L17.24 149.75 L18.68 150.79 L20.12 151.83 L21.55 152.85 L22.99 153.86 L24.43 154.86 L25.86 155.84 L27.3 156.8 L28.74 157.75 L30.17 158.69 L31.61 159.6 L33.05 160.5 L34.49 161.37 L35.92 162.23 L37.36 163.06 L38.8 163.87 L40.23 164.66 L41.67 165.43 L43.11 166.17 L44.54 166.88 L45.98 167.58 L47.42 168.24 L48.85 168.88 L50.29 169.49 L51.73 170.07 L53.16 170.62 L54.6 171.15 L56.04 171.64 L57.48 172.11 L58.91 172.54 L60.35 172.94 L61.79 173.32 L63.22 173.66 L64.66 173.97 L66.1 174.24 L67.53 174.49 L68.97 174.7 L70.41 174.88 L71.84 175.03 L73.28 175.14 L74.72 175.22 L76.15 175.27 L77.59 175.28 L79.03 175.26 L80.47 175.21 L81.9 175.12 L83.34 175 L84.78 174.85 L86.21 174.66 L87.65 174.44 L89.09 174.19 L90.52 173.91 L91.96 173.59 L93.4 173.24 L94.83 172.87 L96.27 172.46 L97.71 172.01 L99.14 171.54 L100.58 171.04 L102.02 170.51 L103.46 169.95 L104.89 169.37 L106.33 168.75 L107.77 168.11 L109.2 167.44 L110.64 166.74 L112.08 166.02 L113.51 165.27 L114.95 164.5 L116.39 163.71 L117.82 162.89 L119.26 162.06 L120.7 161.2 L122.14 160.32 L123.57 159.42 L125.01 158.5 L126.45 157.56 L127.88 156.61 L129.32 155.64 L130.76 154.65 L132.19 153.66 L133.63 152.64 L135.07 151.62 L136.5 150.58 L137.94 149.53 L139.38 148.48 L140.81 147.41 L142.25 146.34 L143.69 145.26 L145.13 144.17 L146.56 143.08 L148 141.99 L149.44 140.89 L150.87 139.79 L152.31 138.69 L153.75 137.59 L155.18 136.49 L156.62 135.4 L158.06 134.3 L159.49 133.22 L160.93 132.13 L162.37 131.06 L163.8 129.99 L165.24 128.93 L166.68 127.88 L168.12 126.83 L169.55 125.8 L170.99 124.79 L172.43 123.78 L173.86 122.79 L175.3 121.81 L176.74 120.85 L178.17 119.91 L179.61 118.98 L181.05 118.07 L182.48 117.19 L183.92 116.32 L185.36 115.47 L186.79 114.64 L188.23 113.84 L189.67 113.06 L191.11 112.3 L192.54 111.57 L193.98 110.86 L195.42 110.18 L196.85 109.53 L198.29 108.9 L199.73 108.3 L201.16 107.73 L202.6 107.19 L204.04 106.67 L205.47 106.19 L206.91 105.73 L208.35 105.31 L209.79 104.92 L211.22 104.56 L212.66 104.23 L214.1 103.93 L215.53 103.66 L216.97 103.43 L218.41 103.23 L219.84 103.06 L221.28 102.93 L222.72 102.83 L224.15 102.76 L225.59 102.73 L227.03 102.72 L228.46 102.76 L229.9 102.82 L231.34 102.92 L232.78 103.05 L234.21 103.22 L235.65 103.41 L237.09 103.64 L238.52 103.91 L239.96 104.2 L241.4 104.53 L242.83 104.89 L244.27 105.28 L245.71 105.7 L247.14 106.15 L248.58 106.63 L250.02 107.14 L251.45 107.69 L252.89 108.25 L254.33 108.85 L255.77 109.48 L257.2 110.13 L258.64 110.81 L260.08 111.52 L261.51 112.25 L262.95 113 L264.39 113.78 L265.82 114.58 L267.26 115.41 L268.7 116.25 L270.13 117.12 L271.57 118.01 L273.01 118.91 L274.44 119.84 L275.88 120.78 L277.32 121.74 L278.76 122.71 L280.19 123.7 L281.63 124.71 L283.07 125.72 L284.5 126.75 L285.94 127.79 L287.38 128.85 L288.81 129.91 L290.25 130.97 L291.69 132.05 L293.12 133.13 L294.56 134.22 L296 135.31 L297.43 136.41 L298.87 137.51 L300.31 138.61 L301.75 139.71 L303.18 140.8 L304.62 141.9 L306.06 143 L307.49 144.09 L308.93 145.17 L310.37 146.25 L311.8 147.33 L313.24 148.39 L314.68 149.45 L316.11 150.5 L317.55 151.54 L318.99 152.56 L320.43 153.58 L321.86 154.58 L323.3 155.56 L324.74 156.53 L326.17 157.49 L327.61 158.43 L329.05 159.35 L330.48 160.25 L331.92 161.13 L333.36 161.99 L334.79 162.83 L336.23 163.65 L337.67 164.44 L339.1 165.22 L340.54 165.96 L341.98 166.69 L343.42 167.38 L344.85 168.06" clip-path="url(#c3)" fill="none" stroke-width="2.15" stroke="#0000ff" stroke-dasharray="8.6 6.6"/>
<path d="M31.35 154.89 L34.55 159.44 L31.35 163.99 L28.15 159.44Z" fill="none" stroke="#00f" stroke-width="2.1" stroke-linejoin="miter"/>
<path d="M101.02 166.34 L104.22 170.89 L101.02 175.44 L97.82 170.89Z" fill="none" stroke="#00f" stroke-width="2.1" stroke-linejoin="miter"/>
<path d="M170.68 120.45 L173.88 125 L170.68 129.55 L167.48 125Z" fill="none" stroke="#00f" stroke-width="2.1" stroke-linejoin="miter"/>
<path d="M240.35 99.74 L243.55 104.29 L240.35 108.84 L237.15 104.29Z" fill="none" stroke="#00f" stroke-width="2.1" stroke-linejoin="miter"/>
<path d="M310.02 141.44 L313.22 145.99 L310.02 150.54 L306.82 145.99Z" fill="none" stroke="#00f" stroke-width="2.1" stroke-linejoin="miter"/>
</g>
<text transform="translate(-2.553 293.9) scale(0.85 1)" font-size="10.8" fill="#2f2f2f">0</text>
<text transform="translate(22.758 293.9) scale(0.85 1)" font-size="10.8" fill="#2f2f2f">0.5</text>
<path transform="translate(55.727 293.9) scale(0.004482 -0.005273)" d="M763 0L583 0L583 1147Q518 1085 412.5 1023Q307 961 223 930L223 1104Q374 1175 487 1276Q600 1377 647 1472L763 1472Z" fill="#2f2f2f" stroke="#444" stroke-width="0.22" vector-effect="non-scaling-stroke"/>
<path transform="translate(81.038 293.9) scale(0.004482 -0.005273)" d="M763 0L583 0L583 1147Q518 1085 412.5 1023Q307 961 223 930L223 1104Q374 1175 487 1276Q600 1377 647 1472L763 1472Z" fill="#2f2f2f" stroke="#444" stroke-width="0.22" vector-effect="non-scaling-stroke"/><text transform="translate(86.144 293.9) scale(0.85 1)" font-size="10.8" fill="#2f2f2f">.5</text>
<text transform="translate(114.007 293.9) scale(0.85 1)" font-size="10.8" fill="#2f2f2f">2</text>
<text transform="translate(139.318 293.9) scale(0.85 1)" font-size="10.8" fill="#2f2f2f">2.5</text>
<text transform="translate(172.287 293.9) scale(0.85 1)" font-size="10.8" fill="#2f2f2f">3</text>
<text transform="translate(197.598 293.9) scale(0.85 1)" font-size="10.8" fill="#2f2f2f">3.5</text>
<text transform="translate(230.567 293.9) scale(0.85 1)" font-size="10.8" fill="#2f2f2f">4</text>
<text transform="translate(255.878 293.9) scale(0.85 1)" font-size="10.8" fill="#2f2f2f">4.5</text>
<text transform="translate(288.847 293.9) scale(0.85 1)" font-size="10.8" fill="#2f2f2f">5</text>
<text transform="translate(-12.465 282.165) scale(0.85 1)" font-size="10.8" fill="#2f2f2f">-5</text>
<text transform="translate(-12.465 254.365) scale(0.85 1)" font-size="10.8" fill="#2f2f2f">-4</text>
<text transform="translate(-12.465 226.565) scale(0.85 1)" font-size="10.8" fill="#2f2f2f">-3</text>
<text transform="translate(-12.465 198.765) scale(0.85 1)" font-size="10.8" fill="#2f2f2f">-2</text>
<text transform="translate(-12.465 170.965) scale(0.85 1)" font-size="10.8" fill="#2f2f2f">-</text><path transform="translate(-9.406 170.965) scale(0.004482 -0.005273)" d="M763 0L583 0L583 1147Q518 1085 412.5 1023Q307 961 223 930L223 1104Q374 1175 487 1276Q600 1377 647 1472L763 1472Z" fill="#2f2f2f" stroke="#444" stroke-width="0.22" vector-effect="non-scaling-stroke"/>
<text transform="translate(-9.406 143.165) scale(0.85 1)" font-size="10.8" fill="#2f2f2f">0</text>
<path transform="translate(-9.406 115.365) scale(0.004482 -0.005273)" d="M763 0L583 0L583 1147Q518 1085 412.5 1023Q307 961 223 930L223 1104Q374 1175 487 1276Q600 1377 647 1472L763 1472Z" fill="#2f2f2f" stroke="#444" stroke-width="0.22" vector-effect="non-scaling-stroke"/>
<text transform="translate(-9.406 87.565) scale(0.85 1)" font-size="10.8" fill="#2f2f2f">2</text>
<text transform="translate(-9.406 59.765) scale(0.85 1)" font-size="10.8" fill="#2f2f2f">3</text>
<text transform="translate(-9.406 31.965) scale(0.85 1)" font-size="10.8" fill="#2f2f2f">4</text>
<text transform="translate(-9.406 4.165) scale(0.85 1)" font-size="10.8" fill="#2f2f2f">5</text>
<text transform="translate(143.535 309.6) scale(0.85 1)" font-size="11.6" fill="#2f2f2f">x</text>
<text transform="translate(-22.5 141.1) rotate(-90) scale(1 0.85)" font-size="10.44" text-anchor="middle" fill="#626262" font-style="italic" style="stroke:none">χ</text><text transform="translate(-16.8 135.4) rotate(-90) scale(1 0.85)" font-size="9.74" text-anchor="middle" fill="#2f2f2f">x</text>
<g transform="translate(208.5 8.5)">
<rect x="0" y="0" width="75.9" height="50.7" fill="#fff" stroke="#5e5e5e" stroke-width="1.0" vector-effect="non-scaling-stroke"/>
<g transform="scale(0.845 1)"><path d="M3.08 9.1H34.91" stroke="#000000" stroke-width="2.15" fill="none"/><path d="M18.7 5.4 L17.63 7.25 L15.49 7.25 L16.56 9.1 L15.49 10.95 L17.63 10.95 L18.7 12.8 L19.77 10.95 L21.9 10.95 L20.83 9.1 L21.9 7.25 L19.77 7.25Z" fill="#000" stroke="#000" stroke-width="1.5" stroke-linejoin="miter"/></g>
<text transform="translate(31.1 15.2) scale(0.89 1)" font-size="8.64" font-style="italic" fill="#7c7c7c" style="stroke:none">γ</text>
<text transform="translate(34.945 14.7) scale(0.89 1)" font-size="9.6" fill="#2f2f2f" style="stroke-width:0.2px">=</text><path transform="translate(39.935 14.7) scale(0.004172 -0.004687)" d="M763 0L583 0L583 1147Q518 1085 412.5 1023Q307 961 223 930L223 1104Q374 1175 487 1276Q600 1377 647 1472L763 1472Z" fill="#2f2f2f" stroke="#444" stroke-width="0.2" vector-effect="non-scaling-stroke"/><text transform="translate(44.688 14.7) scale(0.89 1)" font-size="9.6" fill="#2f2f2f" style="stroke-width:0.2px">.</text><path transform="translate(47.063 14.7) scale(0.004172 -0.004687)" d="M763 0L583 0L583 1147Q518 1085 412.5 1023Q307 961 223 930L223 1104Q374 1175 487 1276Q600 1377 647 1472L763 1472Z" fill="#2f2f2f" stroke="#444" stroke-width="0.2" vector-effect="non-scaling-stroke"/>
<text transform="translate(51.815 15.1) scale(0.89 1)" font-size="11.04" fill="#7c7c7c" style="stroke:none">×</text>
<path transform="translate(57.554 14.7) scale(0.004172 -0.004687)" d="M763 0L583 0L583 1147Q518 1085 412.5 1023Q307 961 223 930L223 1104Q374 1175 487 1276Q600 1377 647 1472L763 1472Z" fill="#2f2f2f" stroke="#444" stroke-width="0.2" vector-effect="non-scaling-stroke"/><text transform="translate(62.307 14.7) scale(0.89 1)" font-size="9.6" fill="#2f2f2f" style="stroke-width:0.2px">0</text>
<text transform="translate(67.259 9.7) scale(0.89 1)" font-size="7.68" fill="#2f2f2f" style="stroke-width:0.2px">-5</text>
<g transform="scale(0.845 1)"><path d="M3.08 25.3H34.91" stroke="#ff0000" stroke-width="2.15" fill="none" stroke-dasharray="8.6 1.2 4.2 1.2"/><circle cx="18.7" cy="25.3" r="3.4" fill="none" stroke="#f00" stroke-width="2.1"/></g>
<text transform="translate(31.1 31.4) scale(0.89 1)" font-size="8.64" font-style="italic" fill="#7c7c7c" style="stroke:none">γ</text>
<text transform="translate(34.945 30.9) scale(0.89 1)" font-size="9.6" fill="#2f2f2f" style="stroke-width:0.2px">=</text><path transform="translate(39.935 30.9) scale(0.004172 -0.004687)" d="M763 0L583 0L583 1147Q518 1085 412.5 1023Q307 961 223 930L223 1104Q374 1175 487 1276Q600 1377 647 1472L763 1472Z" fill="#2f2f2f" stroke="#444" stroke-width="0.2" vector-effect="non-scaling-stroke"/><text transform="translate(44.688 30.9) scale(0.89 1)" font-size="9.6" fill="#2f2f2f" style="stroke-width:0.2px">.3</text>
<text transform="translate(51.815 31.3) scale(0.89 1)" font-size="11.04" fill="#7c7c7c" style="stroke:none">×</text>
<path transform="translate(57.554 30.9) scale(0.004172 -0.004687)" d="M763 0L583 0L583 1147Q518 1085 412.5 1023Q307 961 223 930L223 1104Q374 1175 487 1276Q600 1377 647 1472L763 1472Z" fill="#2f2f2f" stroke="#444" stroke-width="0.2" vector-effect="non-scaling-stroke"/><text transform="translate(62.307 30.9) scale(0.89 1)" font-size="9.6" fill="#2f2f2f" style="stroke-width:0.2px">0</text>
<text transform="translate(67.259 25.9) scale(0.89 1)" font-size="7.68" fill="#2f2f2f" style="stroke-width:0.2px">-5</text>
<g transform="scale(0.845 1)"><path d="M3.08 41.7H34.91" stroke="#0000ff" stroke-width="2.15" fill="none" stroke-dasharray="8.6 6.7"/><path d="M18.7 37.15 L21.9 41.7 L18.7 46.25 L15.5 41.7Z" fill="none" stroke="#00f" stroke-width="2.1" stroke-linejoin="miter"/></g>
<text transform="translate(31.1 47.8) scale(0.89 1)" font-size="8.64" font-style="italic" fill="#7c7c7c" style="stroke:none">γ</text>
<text transform="translate(34.945 47.3) scale(0.89 1)" font-size="9.6" fill="#2f2f2f" style="stroke-width:0.2px">=</text><path transform="translate(39.935 47.3) scale(0.004172 -0.004687)" d="M763 0L583 0L583 1147Q518 1085 412.5 1023Q307 961 223 930L223 1104Q374 1175 487 1276Q600 1377 647 1472L763 1472Z" fill="#2f2f2f" stroke="#444" stroke-width="0.2" vector-effect="non-scaling-stroke"/><text transform="translate(44.688 47.3) scale(0.89 1)" font-size="9.6" fill="#2f2f2f" style="stroke-width:0.2px">.5</text>
<text transform="translate(51.815 47.7) scale(0.89 1)" font-size="11.04" fill="#7c7c7c" style="stroke:none">×</text>
<path transform="translate(57.554 47.3) scale(0.004172 -0.004687)" d="M763 0L583 0L583 1147Q518 1085 412.5 1023Q307 961 223 930L223 1104Q374 1175 487 1276Q600 1377 647 1472L763 1472Z" fill="#2f2f2f" stroke="#444" stroke-width="0.2" vector-effect="non-scaling-stroke"/><text transform="translate(62.307 47.3) scale(0.89 1)" font-size="9.6" fill="#2f2f2f" style="stroke-width:0.2px">0</text>
<text transform="translate(67.259 42.3) scale(0.89 1)" font-size="7.68" fill="#2f2f2f" style="stroke-width:0.2px">-5</text>
</g>
</g>
<g transform="translate(36.5 708.5) scale(1.02437 0.88597)">
<path d="M29.14 278v-3.3M29.14 0v3.3M58.28 278v-3.3M58.28 0v3.3M87.42 278v-3.3M87.42 0v3.3M116.56 278v-3.3M116.56 0v3.3M145.7 278v-3.3M145.7 0v3.3M174.84 278v-3.3M174.84 0v3.3M203.98 278v-3.3M203.98 0v3.3M233.12 278v-3.3M233.12 0v3.3M262.26 278v-3.3M262.26 0v3.3M0 243.25h3.3M291.4 243.25h-3.3M0 208.5h3.3M291.4 208.5h-3.3M0 173.75h3.3M291.4 173.75h-3.3M0 139h3.3M291.4 139h-3.3M0 104.25h3.3M291.4 104.25h-3.3M0 69.5h3.3M291.4 69.5h-3.3M0 34.75h3.3M291.4 34.75h-3.3" stroke="#5e5e5e" stroke-width="0.9" fill="none" vector-effect="non-scaling-stroke"/>
<rect x="0" y="0" width="291.4" height="278.0" fill="none" stroke="#5e5e5e" stroke-width="1.0" vector-effect="non-scaling-stroke"/>
<clipPath id="c4"><rect x="0" y="-1.6" width="344.85" height="281.2"/></clipPath>
<g transform="scale(0.845 1)">
<path d="M0 15.98 L1.44 21.41 L2.87 26.73 L4.31 31.94 L5.75 37.03 L7.18 42.03 L8.62 46.92 L10.06 51.71 L11.5 56.39 L12.93 60.99 L14.37 65.48 L15.81 69.89 L17.24 74.2 L18.68 78.42 L20.12 82.56 L21.55 86.61 L22.99 90.57 L24.43 94.45 L25.86 98.26 L27.3 101.98 L28.74 105.63 L30.17 109.2 L31.61 112.7 L33.05 116.12 L34.49 119.48 L35.92 122.76 L37.36 125.98 L38.8 129.13 L40.23 132.21 L41.67 135.23 L43.11 138.19 L44.54 141.09 L45.98 143.92 L47.42 146.7 L48.85 149.42 L50.29 152.09 L51.73 154.7 L53.16 157.25 L54.6 159.75 L56.04 162.2 L57.48 164.6 L58.91 166.95 L60.35 169.25 L61.79 171.51 L63.22 173.71 L64.66 175.87 L66.1 177.99 L67.53 180.06 L68.97 182.09 L70.41 184.08 L71.84 186.02 L73.28 187.93 L74.72 189.8 L76.15 191.62 L77.59 193.41 L79.03 195.17 L80.47 196.88 L81.9 198.56 L83.34 200.21 L84.78 201.82 L86.21 203.4 L87.65 204.94 L89.09 206.46 L90.52 207.94 L91.96 209.39 L93.4 210.81 L94.83 212.21 L96.27 213.57 L97.71 214.9 L99.14 216.21 L100.58 217.49 L102.02 218.75 L103.46 219.97 L104.89 221.18 L106.33 222.35 L107.77 223.51 L109.2 224.64 L110.64 225.74 L112.08 226.82 L113.51 227.88 L114.95 228.92 L116.39 229.94 L117.82 230.94 L119.26 231.91 L120.7 232.87 L122.14 233.8 L123.57 234.72 L125.01 235.61 L126.45 236.49 L127.88 237.35 L129.32 238.19 L130.76 239.02 L132.19 239.83 L133.63 240.62 L135.07 241.39 L136.5 242.15 L137.94 242.89 L139.38 243.62 L140.81 244.33 L142.25 245.03 L143.69 245.71 L145.13 246.38 L146.56 247.04 L148 247.68 L149.44 248.31 L150.87 248.92 L152.31 249.52 L153.75 250.11 L155.18 250.69 L156.62 251.26 L158.06 251.81 L159.49 252.36 L160.93 252.89 L162.37 253.41 L163.8 253.92 L165.24 254.42 L166.68 254.9 L168.12 255.38 L169.55 255.85 L170.99 256.31 L172.43 256.76 L173.86 257.2 L175.3 257.63 L176.74 258.05 L178.17 258.47 L179.61 258.87 L181.05 259.27 L182.48 259.66 L183.92 260.04 L185.36 260.41 L186.79 260.77 L188.23 261.13 L189.67 261.48 L191.11 261.82 L192.54 262.16 L193.98 262.48 L195.42 262.81 L196.85 263.12 L198.29 263.43 L199.73 263.73 L201.16 264.03 L202.6 264.32 L204.04 264.6 L205.47 264.88 L206.91 265.15 L208.35 265.42 L209.79 265.68 L211.22 265.93 L212.66 266.18 L214.1 266.43 L215.53 266.67 L216.97 266.9 L218.41 267.13 L219.84 267.36 L221.28 267.58 L222.72 267.79 L224.15 268 L225.59 268.21 L227.03 268.41 L228.46 268.61 L229.9 268.81 L231.34 269 L232.78 269.18 L234.21 269.37 L235.65 269.55 L237.09 269.72 L238.52 269.89 L239.96 270.06 L241.4 270.23 L242.83 270.39 L244.27 270.54 L245.71 270.7 L247.14 270.85 L248.58 271 L250.02 271.14 L251.45 271.29 L252.89 271.42 L254.33 271.56 L255.77 271.69 L257.2 271.82 L258.64 271.95 L260.08 272.08 L261.51 272.2 L262.95 272.32 L264.39 272.44 L265.82 272.55 L267.26 272.67 L268.7 272.78 L270.13 272.89 L271.57 272.99 L273.01 273.09 L274.44 273.2 L275.88 273.3 L277.32 273.39 L278.76 273.49 L280.19 273.58 L281.63 273.67 L283.07 273.76 L284.5 273.85 L285.94 273.94 L287.38 274.02 L288.81 274.1 L290.25 274.18 L291.69 274.26 L293.12 274.34 L294.56 274.42 L296 274.49 L297.43 274.56 L298.87 274.64 L300.31 274.7 L301.75 274.77 L303.18 274.84 L304.62 274.91 L306.06 274.97 L307.49 275.03 L308.93 275.09 L310.37 275.15 L311.8 275.21 L313.24 275.27 L314.68 275.33 L316.11 275.38 L317.55 275.44 L318.99 275.49 L320.43 275.54 L321.86 275.59 L323.3 275.64 L324.74 275.69 L326.17 275.74 L327.61 275.79 L329.05 275.83 L330.48 275.88 L331.92 275.92 L333.36 275.96 L334.79 276.01 L336.23 276.05 L337.67 276.09 L339.1 276.13 L340.54 276.17 L341.98 276.2 L343.42 276.24 L344.85 276.28" clip-path="url(#c4)" fill="none" stroke-width="2.15" stroke="#000000"/>
<path d="M31.35 108.37 L30.28 110.22 L28.15 110.22 L29.21 112.07 L28.15 113.92 L30.28 113.92 L31.35 115.77 L32.42 113.92 L34.55 113.92 L33.49 112.07 L34.55 110.22 L32.42 110.22Z" fill="#000" stroke="#000" stroke-width="1.5" stroke-linejoin="miter"/>
<path d="M101.02 214.17 L99.95 216.02 L97.81 216.02 L98.88 217.87 L97.81 219.72 L99.95 219.72 L101.02 221.57 L102.09 219.72 L104.22 219.72 L103.15 217.87 L104.22 216.02 L102.09 216.02Z" fill="#000" stroke="#000" stroke-width="1.5" stroke-linejoin="miter"/>
<path d="M170.68 252.51 L169.62 254.36 L167.48 254.36 L168.55 256.21 L167.48 258.06 L169.62 258.06 L170.68 259.91 L171.75 258.06 L173.89 258.06 L172.82 256.21 L173.89 254.36 L171.75 254.36Z" fill="#000" stroke="#000" stroke-width="1.5" stroke-linejoin="miter"/>
<path d="M240.35 266.41 L239.28 268.26 L237.15 268.26 L238.22 270.11 L237.15 271.96 L239.28 271.96 L240.35 273.81 L241.42 271.96 L243.56 271.96 L242.49 270.11 L243.56 268.26 L241.42 268.26Z" fill="#000" stroke="#000" stroke-width="1.5" stroke-linejoin="miter"/>
<path d="M310.02 271.44 L308.95 273.29 L306.81 273.29 L307.88 275.14 L306.81 276.99 L308.95 276.99 L310.02 278.84 L311.09 276.99 L313.22 276.99 L312.15 275.14 L313.22 273.29 L311.09 273.29Z" fill="#000" stroke="#000" stroke-width="1.5" stroke-linejoin="miter"/>
<path d="M0 132.05 L1.44 135.07 L2.87 138.04 L4.31 140.94 L5.75 143.78 L7.18 146.56 L8.62 149.28 L10.06 151.95 L11.5 154.56 L12.93 157.12 L14.37 159.62 L15.81 162.07 L17.24 164.48 L18.68 166.83 L20.12 169.13 L21.55 171.39 L22.99 173.6 L24.43 175.76 L25.86 177.88 L27.3 179.95 L28.74 181.98 L30.17 183.97 L31.61 185.92 L33.05 187.83 L34.49 189.7 L35.92 191.53 L37.36 193.32 L38.8 195.07 L40.23 196.79 L41.67 198.47 L43.11 200.12 L44.54 201.74 L45.98 203.32 L47.42 204.86 L48.85 206.38 L50.29 207.86 L51.73 209.32 L53.16 210.74 L54.6 212.13 L56.04 213.5 L57.48 214.83 L58.91 216.14 L60.35 217.42 L61.79 218.68 L63.22 219.91 L64.66 221.11 L66.1 222.29 L67.53 223.45 L68.97 224.58 L70.41 225.68 L71.84 226.77 L73.28 227.83 L74.72 228.87 L76.15 229.89 L77.59 230.88 L79.03 231.86 L80.47 232.82 L81.9 233.75 L83.34 234.67 L84.78 235.57 L86.21 236.45 L87.65 237.31 L89.09 238.15 L90.52 238.98 L91.96 239.78 L93.4 240.58 L94.83 241.35 L96.27 242.11 L97.71 242.85 L99.14 243.58 L100.58 244.3 L102.02 244.99 L103.46 245.68 L104.89 246.35 L106.33 247 L107.77 247.65 L109.2 248.27 L110.64 248.89 L112.08 249.49 L113.51 250.08 L114.95 250.66 L116.39 251.23 L117.82 251.78 L119.26 252.33 L120.7 252.86 L122.14 253.38 L123.57 253.89 L125.01 254.39 L126.45 254.88 L127.88 255.36 L129.32 255.83 L130.76 256.29 L132.19 256.74 L133.63 257.18 L135.07 257.61 L136.5 258.03 L137.94 258.44 L139.38 258.85 L140.81 259.25 L142.25 259.63 L143.69 260.02 L145.13 260.39 L146.56 260.75 L148 261.11 L149.44 261.46 L150.87 261.8 L152.31 262.14 L153.75 262.47 L155.18 262.79 L156.62 263.1 L158.06 263.41 L159.49 263.72 L160.93 264.01 L162.37 264.3 L163.8 264.58 L165.24 264.86 L166.68 265.13 L168.12 265.4 L169.55 265.66 L170.99 265.92 L172.43 266.17 L173.86 266.41 L175.3 266.65 L176.74 266.89 L178.17 267.12 L179.61 267.34 L181.05 267.57 L182.48 267.78 L183.92 267.99 L185.36 268.2 L186.79 268.4 L188.23 268.6 L189.67 268.8 L191.11 268.99 L192.54 269.17 L193.98 269.36 L195.42 269.54 L196.85 269.71 L198.29 269.88 L199.73 270.05 L201.16 270.22 L202.6 270.38 L204.04 270.54 L205.47 270.69 L206.91 270.84 L208.35 270.99 L209.79 271.14 L211.22 271.28 L212.66 271.42 L214.1 271.55 L215.53 271.69 L216.97 271.82 L218.41 271.95 L219.84 272.07 L221.28 272.19 L222.72 272.31 L224.15 272.43 L225.59 272.55 L227.03 272.66 L228.46 272.77 L229.9 272.88 L231.34 272.99 L232.78 273.09 L234.21 273.19 L235.65 273.29 L237.09 273.39 L238.52 273.48 L239.96 273.58 L241.4 273.67 L242.83 273.76 L244.27 273.85 L245.71 273.93 L247.14 274.02 L248.58 274.1 L250.02 274.18 L251.45 274.26 L252.89 274.34 L254.33 274.41 L255.77 274.49 L257.2 274.56 L258.64 274.63 L260.08 274.7 L261.51 274.77 L262.95 274.84 L264.39 274.9 L265.82 274.97 L267.26 275.03 L268.7 275.09 L270.13 275.15 L271.57 275.21 L273.01 275.27 L274.44 275.32 L275.88 275.38 L277.32 275.43 L278.76 275.49 L280.19 275.54 L281.63 275.59 L283.07 275.64 L284.5 275.69 L285.94 275.74 L287.38 275.78 L288.81 275.83 L290.25 275.87 L291.69 275.92 L293.12 275.96 L294.56 276 L296 276.05 L297.43 276.09 L298.87 276.13 L300.31 276.16 L301.75 276.2 L303.18 276.24 L304.62 276.28 L306.06 276.31 L307.49 276.35 L308.93 276.38 L310.37 276.41 L311.8 276.45 L313.24 276.48 L314.68 276.51 L316.11 276.54 L317.55 276.57 L318.99 276.6 L320.43 276.63 L321.86 276.66 L323.3 276.69 L324.74 276.71 L326.17 276.74 L327.61 276.77 L329.05 276.79 L330.48 276.82 L331.92 276.84 L333.36 276.87 L334.79 276.89 L336.23 276.91 L337.67 276.94 L339.1 276.96 L340.54 276.98 L341.98 277 L343.42 277.02 L344.85 277.04" clip-path="url(#c4)" fill="none" stroke-width="2.15" stroke="#ff0000" stroke-dasharray="8.6 1.2 4.2 1.2"/>
<circle cx="31.35" cy="185.57" r="3.4" fill="none" stroke="#f00" stroke-width="2.1"/>
<circle cx="101.02" cy="244.51" r="3.4" fill="none" stroke="#f00" stroke-width="2.1"/>
<circle cx="170.68" cy="265.86" r="3.4" fill="none" stroke="#f00" stroke-width="2.1"/>
<circle cx="240.35" cy="273.6" r="3.4" fill="none" stroke="#f00" stroke-width="2.1"/>
<circle cx="310.02" cy="276.41" r="3.4" fill="none" stroke="#f00" stroke-width="2.1"/>
<path d="M0 197.38 L1.44 199.05 L2.87 200.69 L4.31 202.29 L5.75 203.86 L7.18 205.39 L8.62 206.9 L10.06 208.37 L11.5 209.81 L12.93 211.23 L14.37 212.61 L15.81 213.96 L17.24 215.29 L18.68 216.59 L20.12 217.86 L21.55 219.11 L22.99 220.33 L24.43 221.52 L25.86 222.69 L27.3 223.84 L28.74 224.96 L30.17 226.06 L31.61 227.14 L33.05 228.19 L34.49 229.22 L35.92 230.23 L37.36 231.22 L38.8 232.19 L40.23 233.14 L41.67 234.07 L43.11 234.98 L44.54 235.87 L45.98 236.75 L47.42 237.6 L48.85 238.44 L50.29 239.26 L51.73 240.06 L53.16 240.85 L54.6 241.62 L56.04 242.37 L57.48 243.11 L58.91 243.83 L60.35 244.54 L61.79 245.23 L63.22 245.91 L64.66 246.58 L66.1 247.23 L67.53 247.87 L68.97 248.49 L70.41 249.1 L71.84 249.7 L73.28 250.29 L74.72 250.86 L76.15 251.42 L77.59 251.97 L79.03 252.51 L80.47 253.04 L81.9 253.56 L83.34 254.06 L84.78 254.56 L86.21 255.05 L87.65 255.52 L89.09 255.99 L90.52 256.44 L91.96 256.89 L93.4 257.33 L94.83 257.76 L96.27 258.18 L97.71 258.59 L99.14 258.99 L100.58 259.38 L102.02 259.77 L103.46 260.15 L104.89 260.52 L106.33 260.88 L107.77 261.23 L109.2 261.58 L110.64 261.92 L112.08 262.25 L113.51 262.58 L114.95 262.9 L116.39 263.21 L117.82 263.52 L119.26 263.82 L120.7 264.11 L122.14 264.4 L123.57 264.68 L125.01 264.96 L126.45 265.23 L127.88 265.49 L129.32 265.75 L130.76 266.01 L132.19 266.25 L133.63 266.5 L135.07 266.74 L136.5 266.97 L137.94 267.2 L139.38 267.42 L140.81 267.64 L142.25 267.86 L143.69 268.07 L145.13 268.27 L146.56 268.47 L148 268.67 L149.44 268.86 L150.87 269.05 L152.31 269.24 L153.75 269.42 L155.18 269.6 L156.62 269.77 L158.06 269.94 L159.49 270.11 L160.93 270.27 L162.37 270.43 L163.8 270.59 L165.24 270.74 L166.68 270.89 L168.12 271.04 L169.55 271.19 L170.99 271.33 L172.43 271.46 L173.86 271.6 L175.3 271.73 L176.74 271.86 L178.17 271.99 L179.61 272.11 L181.05 272.24 L182.48 272.36 L183.92 272.47 L185.36 272.59 L186.79 272.7 L188.23 272.81 L189.67 272.92 L191.11 273.02 L192.54 273.12 L193.98 273.23 L195.42 273.32 L196.85 273.42 L198.29 273.52 L199.73 273.61 L201.16 273.7 L202.6 273.79 L204.04 273.88 L205.47 273.96 L206.91 274.05 L208.35 274.13 L209.79 274.21 L211.22 274.29 L212.66 274.36 L214.1 274.44 L215.53 274.51 L216.97 274.58 L218.41 274.66 L219.84 274.73 L221.28 274.79 L222.72 274.86 L224.15 274.92 L225.59 274.99 L227.03 275.05 L228.46 275.11 L229.9 275.17 L231.34 275.23 L232.78 275.29 L234.21 275.34 L235.65 275.4 L237.09 275.45 L238.52 275.51 L239.96 275.56 L241.4 275.61 L242.83 275.66 L244.27 275.71 L245.71 275.75 L247.14 275.8 L248.58 275.85 L250.02 275.89 L251.45 275.93 L252.89 275.98 L254.33 276.02 L255.77 276.06 L257.2 276.1 L258.64 276.14 L260.08 276.18 L261.51 276.22 L262.95 276.25 L264.39 276.29 L265.82 276.32 L267.26 276.36 L268.7 276.39 L270.13 276.43 L271.57 276.46 L273.01 276.49 L274.44 276.52 L275.88 276.55 L277.32 276.58 L278.76 276.61 L280.19 276.64 L281.63 276.67 L283.07 276.7 L284.5 276.72 L285.94 276.75 L287.38 276.78 L288.81 276.8 L290.25 276.83 L291.69 276.85 L293.12 276.87 L294.56 276.9 L296 276.92 L297.43 276.94 L298.87 276.96 L300.31 276.99 L301.75 277.01 L303.18 277.03 L304.62 277.05 L306.06 277.07 L307.49 277.09 L308.93 277.11 L310.37 277.12 L311.8 277.14 L313.24 277.16 L314.68 277.18 L316.11 277.19 L317.55 277.21 L318.99 277.23 L320.43 277.24 L321.86 277.26 L323.3 277.27 L324.74 277.29 L326.17 277.3 L327.61 277.32 L329.05 277.33 L330.48 277.35 L331.92 277.36 L333.36 277.37 L334.79 277.39 L336.23 277.4 L337.67 277.41 L339.1 277.42 L340.54 277.44 L341.98 277.45 L343.42 277.46 L344.85 277.47" clip-path="url(#c4)" fill="none" stroke-width="2.15" stroke="#0000ff" stroke-dasharray="8.6 6.6"/>
<path d="M31.35 222.39 L34.55 226.94 L31.35 231.49 L28.15 226.94Z" fill="none" stroke="#00f" stroke-width="2.1" stroke-linejoin="miter"/>
<path d="M101.02 254.95 L104.22 259.5 L101.02 264.05 L97.82 259.5Z" fill="none" stroke="#00f" stroke-width="2.1" stroke-linejoin="miter"/>
<path d="M170.68 266.75 L173.88 271.3 L170.68 275.85 L167.48 271.3Z" fill="none" stroke="#00f" stroke-width="2.1" stroke-linejoin="miter"/>
<path d="M240.35 271.02 L243.55 275.57 L240.35 280.12 L237.15 275.57Z" fill="none" stroke="#00f" stroke-width="2.1" stroke-linejoin="miter"/>
<path d="M310.02 272.57 L313.22 277.12 L310.02 281.67 L306.82 277.12Z" fill="none" stroke="#00f" stroke-width="2.1" stroke-linejoin="miter"/>
</g>
<text transform="translate(-2.553 293.9) scale(0.85 1)" font-size="10.8" fill="#2f2f2f">0</text>
<text transform="translate(22.758 293.9) scale(0.85 1)" font-size="10.8" fill="#2f2f2f">0.5</text>
<path transform="translate(55.727 293.9) scale(0.004482 -0.005273)" d="M763 0L583 0L583 1147Q518 1085 412.5 1023Q307 961 223 930L223 1104Q374 1175 487 1276Q600 1377 647 1472L763 1472Z" fill="#2f2f2f" stroke="#444" stroke-width="0.22" vector-effect="non-scaling-stroke"/>
<path transform="translate(81.038 293.9) scale(0.004482 -0.005273)" d="M763 0L583 0L583 1147Q518 1085 412.5 1023Q307 961 223 930L223 1104Q374 1175 487 1276Q600 1377 647 1472L763 1472Z" fill="#2f2f2f" stroke="#444" stroke-width="0.22" vector-effect="non-scaling-stroke"/><text transform="translate(86.144 293.9) scale(0.85 1)" font-size="10.8" fill="#2f2f2f">.5</text>
<text transform="translate(114.007 293.9) scale(0.85 1)" font-size="10.8" fill="#2f2f2f">2</text>
<text transform="translate(139.318 293.9) scale(0.85 1)" font-size="10.8" fill="#2f2f2f">2.5</text>
<text transform="translate(172.287 293.9) scale(0.85 1)" font-size="10.8" fill="#2f2f2f">3</text>
<text transform="translate(197.598 293.9) scale(0.85 1)" font-size="10.8" fill="#2f2f2f">3.5</text>
<text transform="translate(230.567 293.9) scale(0.85 1)" font-size="10.8" fill="#2f2f2f">4</text>
<text transform="translate(255.878 293.9) scale(0.85 1)" font-size="10.8" fill="#2f2f2f">4.5</text>
<text transform="translate(288.847 293.9) scale(0.85 1)" font-size="10.8" fill="#2f2f2f">5</text>
<text transform="translate(-9.406 282.301) scale(0.85 1)" font-size="10.8" fill="#2f2f2f">0</text>
<text transform="translate(-17.065 247.551) scale(0.85 1)" font-size="10.8" fill="#2f2f2f">0.5</text>
<path transform="translate(-9.406 212.801) scale(0.004482 -0.005273)" d="M763 0L583 0L583 1147Q518 1085 412.5 1023Q307 961 223 930L223 1104Q374 1175 487 1276Q600 1377 647 1472L763 1472Z" fill="#2f2f2f" stroke="#444" stroke-width="0.22" vector-effect="non-scaling-stroke"/>
<path transform="translate(-17.065 178.051) scale(0.004482 -0.005273)" d="M763 0L583 0L583 1147Q518 1085 412.5 1023Q307 961 223 930L223 1104Q374 1175 487 1276Q600 1377 647 1472L763 1472Z" fill="#2f2f2f" stroke="#444" stroke-width="0.22" vector-effect="non-scaling-stroke"/><text transform="translate(-11.958 178.051) scale(0.85 1)" font-size="10.8" fill="#2f2f2f">.5</text>
<text transform="translate(-9.406 143.301) scale(0.85 1)" font-size="10.8" fill="#2f2f2f">2</text>
<text transform="translate(-17.065 108.551) scale(0.85 1)" font-size="10.8" fill="#2f2f2f">2.5</text>
<text transform="translate(-9.406 73.801) scale(0.85 1)" font-size="10.8" fill="#2f2f2f">3</text>
<text transform="translate(-17.065 39.051) scale(0.85 1)" font-size="10.8" fill="#2f2f2f">3.5</text>
<text transform="translate(-9.406 4.301) scale(0.85 1)" font-size="10.8" fill="#2f2f2f">4</text>
<text transform="translate(143.535 309.6) scale(0.85 1)" font-size="11.6" fill="#2f2f2f">x</text>
<text transform="translate(-22.9 139.6) rotate(-90) scale(1 0.85)" font-size="11.02" text-anchor="middle" fill="#626262" font-style="italic" style="stroke:none">θ</text>
<g transform="translate(208.5 8.5)">
<rect x="0" y="0" width="75.9" height="50.7" fill="#fff" stroke="#5e5e5e" stroke-width="1.0" vector-effect="non-scaling-stroke"/>
<g transform="scale(0.845 1)"><path d="M3.08 9.1H34.91" stroke="#000000" stroke-width="2.15" fill="none"/><path d="M18.7 5.4 L17.63 7.25 L15.49 7.25 L16.56 9.1 L15.49 10.95 L17.63 10.95 L18.7 12.8 L19.77 10.95 L21.9 10.95 L20.83 9.1 L21.9 7.25 L19.77 7.25Z" fill="#000" stroke="#000" stroke-width="1.5" stroke-linejoin="miter"/></g>
<text transform="translate(31.1 15.2) scale(0.89 1)" font-size="8.64" font-style="italic" fill="#7c7c7c" style="stroke:none">γ</text>
<text transform="translate(34.945 14.7) scale(0.89 1)" font-size="9.6" fill="#2f2f2f" style="stroke-width:0.2px">=</text><path transform="translate(39.935 14.7) scale(0.004172 -0.004687)" d="M763 0L583 0L583 1147Q518 1085 412.5 1023Q307 961 223 930L223 1104Q374 1175 487 1276Q600 1377 647 1472L763 1472Z" fill="#2f2f2f" stroke="#444" stroke-width="0.2" vector-effect="non-scaling-stroke"/><text transform="translate(44.688 14.7) scale(0.89 1)" font-size="9.6" fill="#2f2f2f" style="stroke-width:0.2px">.</text><path transform="translate(47.063 14.7) scale(0.004172 -0.004687)" d="M763 0L583 0L583 1147Q518 1085 412.5 1023Q307 961 223 930L223 1104Q374 1175 487 1276Q600 1377 647 1472L763 1472Z" fill="#2f2f2f" stroke="#444" stroke-width="0.2" vector-effect="non-scaling-stroke"/>
<text transform="translate(51.815 15.1) scale(0.89 1)" font-size="11.04" fill="#7c7c7c" style="stroke:none">×</text>
<path transform="translate(57.554 14.7) scale(0.004172 -0.004687)" d="M763 0L583 0L583 1147Q518 1085 412.5 1023Q307 961 223 930L223 1104Q374 1175 487 1276Q600 1377 647 1472L763 1472Z" fill="#2f2f2f" stroke="#444" stroke-width="0.2" vector-effect="non-scaling-stroke"/><text transform="translate(62.307 14.7) scale(0.89 1)" font-size="9.6" fill="#2f2f2f" style="stroke-width:0.2px">0</text>
<text transform="translate(67.259 9.7) scale(0.89 1)" font-size="7.68" fill="#2f2f2f" style="stroke-width:0.2px">-5</text>
<g transform="scale(0.845 1)"><path d="M3.08 25.3H34.91" stroke="#ff0000" stroke-width="2.15" fill="none" stroke-dasharray="8.6 1.2 4.2 1.2"/><circle cx="18.7" cy="25.3" r="3.4" fill="none" stroke="#f00" stroke-width="2.1"/></g>
<text transform="translate(31.1 31.4) scale(0.89 1)" font-size="8.64" font-style="italic" fill="#7c7c7c" style="stroke:none">γ</text>
<text transform="translate(34.945 30.9) scale(0.89 1)" font-size="9.6" fill="#2f2f2f" style="stroke-width:0.2px">=</text><path transform="translate(39.935 30.9) scale(0.004172 -0.004687)" d="M763 0L583 0L583 1147Q518 1085 412.5 1023Q307 961 223 930L223 1104Q374 1175 487 1276Q600 1377 647 1472L763 1472Z" fill="#2f2f2f" stroke="#444" stroke-width="0.2" vector-effect="non-scaling-stroke"/><text transform="translate(44.688 30.9) scale(0.89 1)" font-size="9.6" fill="#2f2f2f" style="stroke-width:0.2px">.3</text>
<text transform="translate(51.815 31.3) scale(0.89 1)" font-size="11.04" fill="#7c7c7c" style="stroke:none">×</text>
<path transform="translate(57.554 30.9) scale(0.004172 -0.004687)" d="M763 0L583 0L583 1147Q518 1085 412.5 1023Q307 961 223 930L223 1104Q374 1175 487 1276Q600 1377 647 1472L763 1472Z" fill="#2f2f2f" stroke="#444" stroke-width="0.2" vector-effect="non-scaling-stroke"/><text transform="translate(62.307 30.9) scale(0.89 1)" font-size="9.6" fill="#2f2f2f" style="stroke-width:0.2px">0</text>
<text transform="translate(67.259 25.9) scale(0.89 1)" font-size="7.68" fill="#2f2f2f" style="stroke-width:0.2px">-5</text>
<g transform="scale(0.845 1)"><path d="M3.08 41.7H34.91" stroke="#0000ff" stroke-width="2.15" fill="none" stroke-dasharray="8.6 6.7"/><path d="M18.7 37.15 L21.9 41.7 L18.7 46.25 L15.5 41.7Z" fill="none" stroke="#00f" stroke-width="2.1" stroke-linejoin="miter"/></g>
<text transform="translate(31.1 47.8) scale(0.89 1)" font-size="8.64" font-style="italic" fill="#7c7c7c" style="stroke:none">γ</text>
<text transform="translate(34.945 47.3) scale(0.89 1)" font-size="9.6" fill="#2f2f2f" style="stroke-width:0.2px">=</text><path transform="translate(39.935 47.3) scale(0.004172 -0.004687)" d="M763 0L583 0L583 1147Q518 1085 412.5 1023Q307 961 223 930L223 1104Q374 1175 487 1276Q600 1377 647 1472L763 1472Z" fill="#2f2f2f" stroke="#444" stroke-width="0.2" vector-effect="non-scaling-stroke"/><text transform="translate(44.688 47.3) scale(0.89 1)" font-size="9.6" fill="#2f2f2f" style="stroke-width:0.2px">.5</text>
<text transform="translate(51.815 47.7) scale(0.89 1)" font-size="11.04" fill="#7c7c7c" style="stroke:none">×</text>
<path transform="translate(57.554 47.3) scale(0.004172 -0.004687)" d="M763 0L583 0L583 1147Q518 1085 412.5 1023Q307 961 223 930L223 1104Q374 1175 487 1276Q600 1377 647 1472L763 1472Z" fill="#2f2f2f" stroke="#444" stroke-width="0.2" vector-effect="non-scaling-stroke"/><text transform="translate(62.307 47.3) scale(0.89 1)" font-size="9.6" fill="#2f2f2f" style="stroke-width:0.2px">0</text>
<text transform="translate(67.259 42.3) scale(0.89 1)" font-size="7.68" fill="#2f2f2f" style="stroke-width:0.2px">-5</text>
</g>
</g>
<g transform="translate(414.5 717.5) scale(0.86462 0.85899)">
<path d="M29.14 278v-3.3M29.14 0v3.3M58.28 278v-3.3M58.28 0v3.3M87.42 278v-3.3M87.42 0v3.3M116.56 278v-3.3M116.56 0v3.3M145.7 278v-3.3M145.7 0v3.3M174.84 278v-3.3M174.84 0v3.3M203.98 278v-3.3M203.98 0v3.3M233.12 278v-3.3M233.12 0v3.3M262.26 278v-3.3M262.26 0v3.3M0 243.25h3.3M291.4 243.25h-3.3M0 208.5h3.3M291.4 208.5h-3.3M0 173.75h3.3M291.4 173.75h-3.3M0 139h3.3M291.4 139h-3.3M0 104.25h3.3M291.4 104.25h-3.3M0 69.5h3.3M291.4 69.5h-3.3M0 34.75h3.3M291.4 34.75h-3.3" stroke="#5e5e5e" stroke-width="0.9" fill="none" vector-effect="non-scaling-stroke"/>
<rect x="0" y="0" width="291.4" height="278.0" fill="none" stroke="#5e5e5e" stroke-width="1.0" vector-effect="non-scaling-stroke"/>
<clipPath id="c5"><rect x="0" y="-1.6" width="344.85" height="281.2"/></clipPath>
<g transform="scale(0.845 1)">
<path d="M0 139 L1.44 137.33 L2.87 135.66 L4.31 134 L5.75 132.34 L7.18 130.68 L8.62 129.04 L10.06 127.4 L11.5 125.77 L12.93 124.15 L14.37 122.55 L15.81 120.96 L17.24 119.38 L18.68 117.82 L20.12 116.28 L21.55 114.77 L22.99 113.27 L24.43 111.79 L25.86 110.34 L27.3 108.91 L28.74 107.51 L30.17 106.13 L31.61 104.79 L33.05 103.47 L34.49 102.18 L35.92 100.93 L37.36 99.71 L38.8 98.52 L40.23 97.37 L41.67 96.25 L43.11 95.17 L44.54 94.13 L45.98 93.13 L47.42 92.17 L48.85 91.24 L50.29 90.36 L51.73 89.52 L53.16 88.73 L54.6 87.98 L56.04 87.27 L57.48 86.6 L58.91 85.99 L60.35 85.41 L61.79 84.89 L63.22 84.41 L64.66 83.98 L66.1 83.59 L67.53 83.26 L68.97 82.97 L70.41 82.73 L71.84 82.54 L73.28 82.39 L74.72 82.3 L76.15 82.26 L77.59 82.26 L79.03 82.32 L80.47 82.42 L81.9 82.57 L83.34 82.77 L84.78 83.02 L86.21 83.32 L87.65 83.67 L89.09 84.06 L90.52 84.5 L91.96 84.99 L93.4 85.53 L94.83 86.11 L96.27 86.74 L97.71 87.41 L99.14 88.13 L100.58 88.89 L102.02 89.69 L103.46 90.54 L104.89 91.43 L106.33 92.36 L107.77 93.33 L109.2 94.34 L110.64 95.39 L112.08 96.48 L113.51 97.6 L114.95 98.76 L116.39 99.95 L117.82 101.18 L119.26 102.44 L120.7 103.73 L122.14 105.06 L123.57 106.41 L125.01 107.79 L126.45 109.2 L127.88 110.63 L129.32 112.09 L130.76 113.57 L132.19 115.07 L133.63 116.6 L135.07 118.14 L136.5 119.7 L137.94 121.28 L139.38 122.87 L140.81 124.48 L142.25 126.1 L143.69 127.73 L145.13 129.37 L146.56 131.02 L148 132.68 L149.44 134.34 L150.87 136 L152.31 137.67 L153.75 139.34 L155.18 141.01 L156.62 142.68 L158.06 144.34 L159.49 146 L160.93 147.65 L162.37 149.3 L163.8 150.94 L165.24 152.56 L166.68 154.18 L168.12 155.78 L169.55 157.37 L170.99 158.94 L172.43 160.49 L173.86 162.03 L175.3 163.54 L176.74 165.04 L178.17 166.51 L179.61 167.96 L181.05 169.38 L182.48 170.78 L183.92 172.14 L185.36 173.48 L186.79 174.8 L188.23 176.08 L189.67 177.32 L191.11 178.54 L192.54 179.72 L193.98 180.86 L195.42 181.97 L196.85 183.04 L198.29 184.08 L199.73 185.07 L201.16 186.02 L202.6 186.94 L204.04 187.81 L205.47 188.64 L206.91 189.43 L208.35 190.17 L209.79 190.87 L211.22 191.53 L212.66 192.13 L214.1 192.7 L215.53 193.21 L216.97 193.68 L218.41 194.11 L219.84 194.48 L221.28 194.81 L222.72 195.09 L224.15 195.32 L225.59 195.5 L227.03 195.63 L228.46 195.71 L229.9 195.75 L231.34 195.73 L232.78 195.67 L234.21 195.55 L235.65 195.39 L237.09 195.18 L238.52 194.92 L239.96 194.61 L241.4 194.26 L242.83 193.85 L244.27 193.4 L245.71 192.9 L247.14 192.36 L248.58 191.77 L250.02 191.13 L251.45 190.45 L252.89 189.72 L254.33 188.95 L255.77 188.14 L257.2 187.28 L258.64 186.39 L260.08 185.45 L261.51 184.47 L262.95 183.45 L264.39 182.39 L265.82 181.3 L267.26 180.17 L268.7 179 L270.13 177.8 L271.57 176.56 L273.01 175.3 L274.44 174 L275.88 172.67 L277.32 171.31 L278.76 169.93 L280.19 168.51 L281.63 167.07 L283.07 165.61 L284.5 164.13 L285.94 162.62 L287.38 161.09 L288.81 159.54 L290.25 157.98 L291.69 156.4 L293.12 154.8 L294.56 153.19 L296 151.57 L297.43 149.94 L298.87 148.29 L300.31 146.64 L301.75 144.99 L303.18 143.32 L304.62 141.66 L306.06 139.99 L307.49 138.32 L308.93 136.65 L310.37 134.98 L311.8 133.32 L313.24 131.66 L314.68 130.01 L316.11 128.37 L317.55 126.73 L318.99 125.11 L320.43 123.5 L321.86 121.9 L323.3 120.31 L324.74 118.75 L326.17 117.19 L327.61 115.66 L329.05 114.15 L330.48 112.66 L331.92 111.2 L333.36 109.75 L334.79 108.33 L336.23 106.94 L337.67 105.58 L339.1 104.25 L340.54 102.94 L341.98 101.67 L343.42 100.43 L344.85 99.22" clip-path="url(#c5)" fill="none" stroke-width="2.15" stroke="#000000"/>
<path d="M31.35 101.33 L30.28 103.18 L28.15 103.18 L29.21 105.03 L28.15 106.88 L30.28 106.88 L31.35 108.73 L32.42 106.88 L34.55 106.88 L33.49 105.03 L34.55 103.18 L32.42 103.18Z" fill="#000" stroke="#000" stroke-width="1.5" stroke-linejoin="miter"/>
<path d="M101.02 85.43 L99.95 87.28 L97.81 87.28 L98.88 89.13 L97.81 90.98 L99.95 90.98 L101.02 92.83 L102.09 90.98 L104.22 90.98 L103.15 89.13 L104.22 87.28 L102.09 87.28Z" fill="#000" stroke="#000" stroke-width="1.5" stroke-linejoin="miter"/>
<path d="M170.68 154.9 L169.62 156.75 L167.48 156.75 L168.55 158.6 L167.48 160.45 L169.62 160.45 L170.68 162.3 L171.75 160.45 L173.89 160.45 L172.82 158.6 L173.89 156.75 L171.75 156.75Z" fill="#000" stroke="#000" stroke-width="1.5" stroke-linejoin="miter"/>
<path d="M240.35 190.82 L239.28 192.67 L237.15 192.67 L238.22 194.52 L237.15 196.37 L239.28 196.37 L240.35 198.22 L241.42 196.37 L243.56 196.37 L242.49 194.52 L243.56 192.67 L241.42 192.67Z" fill="#000" stroke="#000" stroke-width="1.5" stroke-linejoin="miter"/>
<path d="M310.02 131.69 L308.95 133.54 L306.81 133.54 L307.88 135.39 L306.81 137.24 L308.95 137.24 L310.02 139.09 L311.09 137.24 L313.22 137.24 L312.15 135.39 L313.22 133.54 L311.09 133.54Z" fill="#000" stroke="#000" stroke-width="1.5" stroke-linejoin="miter"/>
<path d="M0 139 L1.44 136.36 L2.87 133.72 L4.31 131.08 L5.75 128.45 L7.18 125.84 L8.62 123.23 L10.06 120.63 L11.5 118.05 L12.93 115.49 L14.37 112.95 L15.81 110.44 L17.24 107.94 L18.68 105.48 L20.12 103.04 L21.55 100.64 L22.99 98.26 L24.43 95.93 L25.86 93.63 L27.3 91.37 L28.74 89.15 L30.17 86.97 L31.61 84.84 L33.05 82.76 L34.49 80.72 L35.92 78.73 L37.36 76.8 L38.8 74.92 L40.23 73.1 L41.67 71.33 L43.11 69.62 L44.54 67.97 L45.98 66.39 L47.42 64.86 L48.85 63.4 L50.29 62.01 L51.73 60.68 L53.16 59.42 L54.6 58.23 L56.04 57.11 L57.48 56.06 L58.91 55.08 L60.35 54.17 L61.79 53.34 L63.22 52.58 L64.66 51.9 L66.1 51.29 L67.53 50.76 L68.97 50.3 L70.41 49.92 L71.84 49.62 L73.28 49.39 L74.72 49.25 L76.15 49.18 L77.59 49.19 L79.03 49.27 L80.47 49.43 L81.9 49.67 L83.34 49.99 L84.78 50.39 L86.21 50.86 L87.65 51.41 L89.09 52.03 L90.52 52.73 L91.96 53.5 L93.4 54.35 L94.83 55.27 L96.27 56.27 L97.71 57.33 L99.14 58.47 L100.58 59.67 L102.02 60.95 L103.46 62.29 L104.89 63.7 L106.33 65.17 L107.77 66.71 L109.2 68.31 L110.64 69.97 L112.08 71.69 L113.51 73.46 L114.95 75.3 L116.39 77.19 L117.82 79.13 L119.26 81.13 L120.7 83.18 L122.14 85.27 L123.57 87.41 L125.01 89.6 L126.45 91.82 L127.88 94.09 L129.32 96.4 L130.76 98.74 L132.19 101.12 L133.63 103.54 L135.07 105.98 L136.5 108.45 L137.94 110.95 L139.38 113.47 L140.81 116.01 L142.25 118.58 L143.69 121.16 L145.13 123.76 L146.56 126.37 L148 128.99 L149.44 131.62 L150.87 134.26 L152.31 136.9 L153.75 139.54 L155.18 142.18 L156.62 144.82 L158.06 147.45 L159.49 150.08 L160.93 152.7 L162.37 155.3 L163.8 157.89 L165.24 160.47 L166.68 163.02 L168.12 165.56 L169.55 168.07 L170.99 170.56 L172.43 173.02 L173.86 175.45 L175.3 177.85 L176.74 180.21 L178.17 182.54 L179.61 184.84 L181.05 187.09 L182.48 189.3 L183.92 191.47 L185.36 193.59 L186.79 195.66 L188.23 197.69 L189.67 199.66 L191.11 201.59 L192.54 203.45 L193.98 205.27 L195.42 207.02 L196.85 208.72 L198.29 210.35 L199.73 211.93 L201.16 213.44 L202.6 214.89 L204.04 216.27 L205.47 217.58 L206.91 218.83 L208.35 220 L209.79 221.11 L211.22 222.15 L212.66 223.11 L214.1 224 L215.53 224.82 L216.97 225.56 L218.41 226.23 L219.84 226.82 L221.28 227.34 L222.72 227.78 L224.15 228.15 L225.59 228.43 L227.03 228.64 L228.46 228.77 L229.9 228.83 L231.34 228.8 L232.78 228.7 L234.21 228.52 L235.65 228.27 L237.09 227.93 L238.52 227.52 L239.96 227.03 L241.4 226.47 L242.83 225.83 L244.27 225.12 L245.71 224.33 L247.14 223.47 L248.58 222.53 L250.02 221.52 L251.45 220.44 L252.89 219.29 L254.33 218.07 L255.77 216.79 L257.2 215.43 L258.64 214.01 L260.08 212.52 L261.51 210.97 L262.95 209.36 L264.39 207.69 L265.82 205.96 L267.26 204.17 L268.7 202.32 L270.13 200.42 L271.57 198.46 L273.01 196.46 L274.44 194.4 L275.88 192.3 L277.32 190.15 L278.76 187.95 L280.19 185.72 L281.63 183.44 L283.07 181.13 L284.5 178.77 L285.94 176.39 L287.38 173.97 L288.81 171.52 L290.25 169.04 L291.69 166.54 L293.12 164.01 L294.56 161.46 L296 158.9 L297.43 156.31 L298.87 153.71 L300.31 151.1 L301.75 148.48 L303.18 145.84 L304.62 143.21 L306.06 140.57 L307.49 137.92 L308.93 135.28 L310.37 132.64 L311.8 130.01 L313.24 127.39 L314.68 124.77 L316.11 122.17 L317.55 119.58 L318.99 117.01 L320.43 114.46 L321.86 111.93 L323.3 109.42 L324.74 106.94 L326.17 104.48 L327.61 102.06 L329.05 99.67 L330.48 97.31 L331.92 94.99 L333.36 92.7 L334.79 90.46 L336.23 88.26 L337.67 86.1 L339.1 83.98 L340.54 81.92 L341.98 79.9 L343.42 77.94 L344.85 76.03" clip-path="url(#c5)" fill="none" stroke-width="2.15" stroke="#ff0000" stroke-dasharray="8.6 1.2 4.2 1.2"/>
<circle cx="31.35" cy="85.22" r="3.4" fill="none" stroke="#f00" stroke-width="2.1"/>
<circle cx="101.02" cy="60.05" r="3.4" fill="none" stroke="#f00" stroke-width="2.1"/>
<circle cx="170.68" cy="170.03" r="3.4" fill="none" stroke="#f00" stroke-width="2.1"/>
<circle cx="240.35" cy="226.89" r="3.4" fill="none" stroke="#f00" stroke-width="2.1"/>
<circle cx="310.02" cy="133.28" r="3.4" fill="none" stroke="#f00" stroke-width="2.1"/>
<path d="M0 139 L1.44 135.69 L2.87 132.39 L4.31 129.09 L5.75 125.79 L7.18 122.51 L8.62 119.25 L10.06 116 L11.5 112.77 L12.93 109.57 L14.37 106.39 L15.81 103.23 L17.24 100.11 L18.68 97.02 L20.12 93.97 L21.55 90.96 L22.99 87.99 L24.43 85.06 L25.86 82.18 L27.3 79.35 L28.74 76.57 L30.17 73.85 L31.61 71.18 L33.05 68.57 L34.49 66.02 L35.92 63.53 L37.36 61.11 L38.8 58.76 L40.23 56.48 L41.67 54.26 L43.11 52.12 L44.54 50.06 L45.98 48.07 L47.42 46.16 L48.85 44.34 L50.29 42.59 L51.73 40.93 L53.16 39.35 L54.6 37.86 L56.04 36.45 L57.48 35.14 L58.91 33.91 L60.35 32.78 L61.79 31.74 L63.22 30.79 L64.66 29.93 L66.1 29.17 L67.53 28.5 L68.97 27.93 L70.41 27.45 L71.84 27.08 L73.28 26.79 L74.72 26.61 L76.15 26.52 L77.59 26.53 L79.03 26.64 L80.47 26.84 L81.9 27.15 L83.34 27.54 L84.78 28.04 L86.21 28.63 L87.65 29.32 L89.09 30.1 L90.52 30.97 L91.96 31.94 L93.4 33 L94.83 34.16 L96.27 35.4 L97.71 36.73 L99.14 38.15 L100.58 39.66 L102.02 41.26 L103.46 42.94 L104.89 44.7 L106.33 46.55 L107.77 48.47 L109.2 50.47 L110.64 52.55 L112.08 54.71 L113.51 56.94 L114.95 59.23 L116.39 61.6 L117.82 64.03 L119.26 66.53 L120.7 69.1 L122.14 71.72 L123.57 74.4 L125.01 77.13 L126.45 79.92 L127.88 82.77 L129.32 85.66 L130.76 88.59 L132.19 91.57 L133.63 94.59 L135.07 97.65 L136.5 100.75 L137.94 103.87 L139.38 107.03 L140.81 110.22 L142.25 113.43 L143.69 116.66 L145.13 119.91 L146.56 123.18 L148 126.46 L149.44 129.76 L150.87 133.06 L152.31 136.37 L153.75 139.67 L155.18 142.98 L156.62 146.29 L158.06 149.59 L159.49 152.87 L160.93 156.15 L162.37 159.41 L163.8 162.66 L165.24 165.88 L166.68 169.08 L168.12 172.26 L169.55 175.4 L170.99 178.52 L172.43 181.6 L173.86 184.64 L175.3 187.65 L176.74 190.61 L178.17 193.53 L179.61 196.4 L181.05 199.22 L182.48 201.99 L183.92 204.7 L185.36 207.36 L186.79 209.96 L188.23 212.49 L189.67 214.96 L191.11 217.37 L192.54 219.71 L193.98 221.98 L195.42 224.18 L196.85 226.3 L198.29 228.35 L199.73 230.32 L201.16 232.21 L202.6 234.03 L204.04 235.76 L205.47 237.4 L206.91 238.96 L208.35 240.44 L209.79 241.82 L211.22 243.12 L212.66 244.33 L214.1 245.44 L215.53 246.47 L216.97 247.4 L218.41 248.23 L219.84 248.98 L221.28 249.62 L222.72 250.18 L224.15 250.63 L225.59 250.99 L227.03 251.25 L228.46 251.42 L229.9 251.48 L231.34 251.45 L232.78 251.33 L234.21 251.1 L235.65 250.78 L237.09 250.36 L238.52 249.85 L239.96 249.24 L241.4 248.53 L242.83 247.73 L244.27 246.84 L245.71 245.85 L247.14 244.77 L248.58 243.6 L250.02 242.34 L251.45 240.98 L252.89 239.54 L254.33 238.02 L255.77 236.41 L257.2 234.71 L258.64 232.93 L260.08 231.07 L261.51 229.13 L262.95 227.11 L264.39 225.01 L265.82 222.84 L267.26 220.6 L268.7 218.29 L270.13 215.91 L271.57 213.46 L273.01 210.95 L274.44 208.38 L275.88 205.74 L277.32 203.05 L278.76 200.3 L280.19 197.5 L281.63 194.65 L283.07 191.75 L284.5 188.81 L285.94 185.82 L287.38 182.79 L288.81 179.72 L290.25 176.62 L291.69 173.49 L293.12 170.32 L294.56 167.13 L296 163.92 L297.43 160.68 L298.87 157.42 L300.31 154.15 L301.75 150.87 L303.18 147.57 L304.62 144.27 L306.06 140.96 L307.49 137.65 L308.93 134.34 L310.37 131.04 L311.8 127.74 L313.24 124.46 L314.68 121.18 L316.11 117.92 L317.55 114.68 L318.99 111.46 L320.43 108.27 L321.86 105.1 L323.3 101.96 L324.74 98.85 L326.17 95.78 L327.61 92.74 L329.05 89.75 L330.48 86.79 L331.92 83.88 L333.36 81.02 L334.79 78.21 L336.23 75.46 L337.67 72.75 L339.1 70.11 L340.54 67.52 L341.98 65 L343.42 62.54 L344.85 60.15" clip-path="url(#c5)" fill="none" stroke-width="2.15" stroke="#0000ff" stroke-dasharray="8.6 6.6"/>
<path d="M31.35 67.11 L34.55 71.66 L31.35 76.21 L28.15 71.66Z" fill="none" stroke="#00f" stroke-width="2.1" stroke-linejoin="miter"/>
<path d="M101.02 35.59 L104.22 40.14 L101.02 44.69 L97.82 40.14Z" fill="none" stroke="#00f" stroke-width="2.1" stroke-linejoin="miter"/>
<path d="M170.68 173.31 L173.88 177.86 L170.68 182.41 L167.48 177.86Z" fill="none" stroke="#00f" stroke-width="2.1" stroke-linejoin="miter"/>
<path d="M240.35 244.51 L243.55 249.06 L240.35 253.61 L237.15 249.06Z" fill="none" stroke="#00f" stroke-width="2.1" stroke-linejoin="miter"/>
<path d="M310.02 127.29 L313.22 131.84 L310.02 136.39 L306.82 131.84Z" fill="none" stroke="#00f" stroke-width="2.1" stroke-linejoin="miter"/>
</g>
<text transform="translate(-2.553 293.9) scale(0.85 1)" font-size="10.8" fill="#2f2f2f">0</text>
<text transform="translate(22.758 293.9) scale(0.85 1)" font-size="10.8" fill="#2f2f2f">0.5</text>
<path transform="translate(55.727 293.9) scale(0.004482 -0.005273)" d="M763 0L583 0L583 1147Q518 1085 412.5 1023Q307 961 223 930L223 1104Q374 1175 487 1276Q600 1377 647 1472L763 1472Z" fill="#2f2f2f" stroke="#444" stroke-width="0.22" vector-effect="non-scaling-stroke"/>
<path transform="translate(81.038 293.9) scale(0.004482 -0.005273)" d="M763 0L583 0L583 1147Q518 1085 412.5 1023Q307 961 223 930L223 1104Q374 1175 487 1276Q600 1377 647 1472L763 1472Z" fill="#2f2f2f" stroke="#444" stroke-width="0.22" vector-effect="non-scaling-stroke"/><text transform="translate(86.144 293.9) scale(0.85 1)" font-size="10.8" fill="#2f2f2f">.5</text>
<text transform="translate(114.007 293.9) scale(0.85 1)" font-size="10.8" fill="#2f2f2f">2</text>
<text transform="translate(139.318 293.9) scale(0.85 1)" font-size="10.8" fill="#2f2f2f">2.5</text>
<text transform="translate(172.287 293.9) scale(0.85 1)" font-size="10.8" fill="#2f2f2f">3</text>
<text transform="translate(197.598 293.9) scale(0.85 1)" font-size="10.8" fill="#2f2f2f">3.5</text>
<text transform="translate(230.567 293.9) scale(0.85 1)" font-size="10.8" fill="#2f2f2f">4</text>
<text transform="translate(255.878 293.9) scale(0.85 1)" font-size="10.8" fill="#2f2f2f">4.5</text>
<text transform="translate(288.847 293.9) scale(0.85 1)" font-size="10.8" fill="#2f2f2f">5</text>
<text transform="translate(-12.465 282.316) scale(0.85 1)" font-size="10.8" fill="#2f2f2f">-8</text>
<text transform="translate(-12.465 247.566) scale(0.85 1)" font-size="10.8" fill="#2f2f2f">-6</text>
<text transform="translate(-12.465 212.816) scale(0.85 1)" font-size="10.8" fill="#2f2f2f">-4</text>
<text transform="translate(-12.465 178.066) scale(0.85 1)" font-size="10.8" fill="#2f2f2f">-2</text>
<text transform="translate(-9.406 143.316) scale(0.85 1)" font-size="10.8" fill="#2f2f2f">0</text>
<text transform="translate(-9.406 108.566) scale(0.85 1)" font-size="10.8" fill="#2f2f2f">2</text>
<text transform="translate(-9.406 73.816) scale(0.85 1)" font-size="10.8" fill="#2f2f2f">4</text>
<text transform="translate(-9.406 39.066) scale(0.85 1)" font-size="10.8" fill="#2f2f2f">6</text>
<text transform="translate(-9.406 4.316) scale(0.85 1)" font-size="10.8" fill="#2f2f2f">8</text>
<text transform="translate(143.535 309.6) scale(0.85 1)" font-size="11.6" fill="#2f2f2f">x</text>
<text transform="translate(-18.1 138.8) rotate(-90) scale(1 0.85)" font-size="11.60" text-anchor="middle" fill="#2f2f2f">C</text>
<g transform="translate(208.5 8.5)">
<rect x="0" y="0" width="75.9" height="50.7" fill="#fff" stroke="#5e5e5e" stroke-width="1.0" vector-effect="non-scaling-stroke"/>
<g transform="scale(0.845 1)"><path d="M3.08 9.1H34.91" stroke="#000000" stroke-width="2.15" fill="none"/><path d="M18.7 5.4 L17.63 7.25 L15.49 7.25 L16.56 9.1 L15.49 10.95 L17.63 10.95 L18.7 12.8 L19.77 10.95 L21.9 10.95 L20.83 9.1 L21.9 7.25 L19.77 7.25Z" fill="#000" stroke="#000" stroke-width="1.5" stroke-linejoin="miter"/></g>
<text transform="translate(31.1 15.2) scale(0.89 1)" font-size="8.64" font-style="italic" fill="#7c7c7c" style="stroke:none">γ</text>
<text transform="translate(34.945 14.7) scale(0.89 1)" font-size="9.6" fill="#2f2f2f" style="stroke-width:0.2px">=</text><path transform="translate(39.935 14.7) scale(0.004172 -0.004687)" d="M763 0L583 0L583 1147Q518 1085 412.5 1023Q307 961 223 930L223 1104Q374 1175 487 1276Q600 1377 647 1472L763 1472Z" fill="#2f2f2f" stroke="#444" stroke-width="0.2" vector-effect="non-scaling-stroke"/><text transform="translate(44.688 14.7) scale(0.89 1)" font-size="9.6" fill="#2f2f2f" style="stroke-width:0.2px">.</text><path transform="translate(47.063 14.7) scale(0.004172 -0.004687)" d="M763 0L583 0L583 1147Q518 1085 412.5 1023Q307 961 223 930L223 1104Q374 1175 487 1276Q600 1377 647 1472L763 1472Z" fill="#2f2f2f" stroke="#444" stroke-width="0.2" vector-effect="non-scaling-stroke"/>
<text transform="translate(51.815 15.1) scale(0.89 1)" font-size="11.04" fill="#7c7c7c" style="stroke:none">×</text>
<path transform="translate(57.554 14.7) scale(0.004172 -0.004687)" d="M763 0L583 0L583 1147Q518 1085 412.5 1023Q307 961 223 930L223 1104Q374 1175 487 1276Q600 1377 647 1472L763 1472Z" fill="#2f2f2f" stroke="#444" stroke-width="0.2" vector-effect="non-scaling-stroke"/><text transform="translate(62.307 14.7) scale(0.89 1)" font-size="9.6" fill="#2f2f2f" style="stroke-width:0.2px">0</text>
<text transform="translate(67.259 9.7) scale(0.89 1)" font-size="7.68" fill="#2f2f2f" style="stroke-width:0.2px">-5</text>
<g transform="scale(0.845 1)"><path d="M3.08 25.3H34.91" stroke="#ff0000" stroke-width="2.15" fill="none" stroke-dasharray="8.6 1.2 4.2 1.2"/><circle cx="18.7" cy="25.3" r="3.4" fill="none" stroke="#f00" stroke-width="2.1"/></g>
<text transform="translate(31.1 31.4) scale(0.89 1)" font-size="8.64" font-style="italic" fill="#7c7c7c" style="stroke:none">γ</text>
<text transform="translate(34.945 30.9) scale(0.89 1)" font-size="9.6" fill="#2f2f2f" style="stroke-width:0.2px">=</text><path transform="translate(39.935 30.9) scale(0.004172 -0.004687)" d="M763 0L583 0L583 1147Q518 1085 412.5 1023Q307 961 223 930L223 1104Q374 1175 487 1276Q600 1377 647 1472L763 1472Z" fill="#2f2f2f" stroke="#444" stroke-width="0.2" vector-effect="non-scaling-stroke"/><text transform="translate(44.688 30.9) scale(0.89 1)" font-size="9.6" fill="#2f2f2f" style="stroke-width:0.2px">.3</text>
<text transform="translate(51.815 31.3) scale(0.89 1)" font-size="11.04" fill="#7c7c7c" style="stroke:none">×</text>
<path transform="translate(57.554 30.9) scale(0.004172 -0.004687)" d="M763 0L583 0L583 1147Q518 1085 412.5 1023Q307 961 223 930L223 1104Q374 1175 487 1276Q600 1377 647 1472L763 1472Z" fill="#2f2f2f" stroke="#444" stroke-width="0.2" vector-effect="non-scaling-stroke"/><text transform="translate(62.307 30.9) scale(0.89 1)" font-size="9.6" fill="#2f2f2f" style="stroke-width:0.2px">0</text>
<text transform="translate(67.259 25.9) scale(0.89 1)" font-size="7.68" fill="#2f2f2f" style="stroke-width:0.2px">-5</text>
<g transform="scale(0.845 1)"><path d="M3.08 41.7H34.91" stroke="#0000ff" stroke-width="2.15" fill="none" stroke-dasharray="8.6 6.7"/><path d="M18.7 37.15 L21.9 41.7 L18.7 46.25 L15.5 41.7Z" fill="none" stroke="#00f" stroke-width="2.1" stroke-linejoin="miter"/></g>
<text transform="translate(31.1 47.8) scale(0.89 1)" font-size="8.64" font-style="italic" fill="#7c7c7c" style="stroke:none">γ</text>
<text transform="translate(34.945 47.3) scale(0.89 1)" font-size="9.6" fill="#2f2f2f" style="stroke-width:0.2px">=</text><path transform="translate(39.935 47.3) scale(0.004172 -0.004687)" d="M763 0L583 0L583 1147Q518 1085 412.5 1023Q307 961 223 930L223 1104Q374 1175 487 1276Q600 1377 647 1472L763 1472Z" fill="#2f2f2f" stroke="#444" stroke-width="0.2" vector-effect="non-scaling-stroke"/><text transform="translate(44.688 47.3) scale(0.89 1)" font-size="9.6" fill="#2f2f2f" style="stroke-width:0.2px">.5</text>
<text transform="translate(51.815 47.7) scale(0.89 1)" font-size="11.04" fill="#7c7c7c" style="stroke:none">×</text>
<path transform="translate(57.554 47.3) scale(0.004172 -0.004687)" d="M763 0L583 0L583 1147Q518 1085 412.5 1023Q307 961 223 930L223 1104Q374 1175 487 1276Q600 1377 647 1472L763 1472Z" fill="#2f2f2f" stroke="#444" stroke-width="0.2" vector-effect="non-scaling-stroke"/><text transform="translate(62.307 47.3) scale(0.89 1)" font-size="9.6" fill="#2f2f2f" style="stroke-width:0.2px">0</text>
<text transform="translate(67.259 42.3) scale(0.89 1)" font-size="7.68" fill="#2f2f2f" style="stroke-width:0.2px">-5</text>
</g>
</g>
<rect x="368.5" y="663.6" width="2.9" height="3.5" rx="1" fill="#f4f4d0" opacity="0.6"/><rect x="369.1" y="664.3" width="1.7" height="2.2" rx="0.4" fill="#7c7c78"/>
</svg></body></html>
